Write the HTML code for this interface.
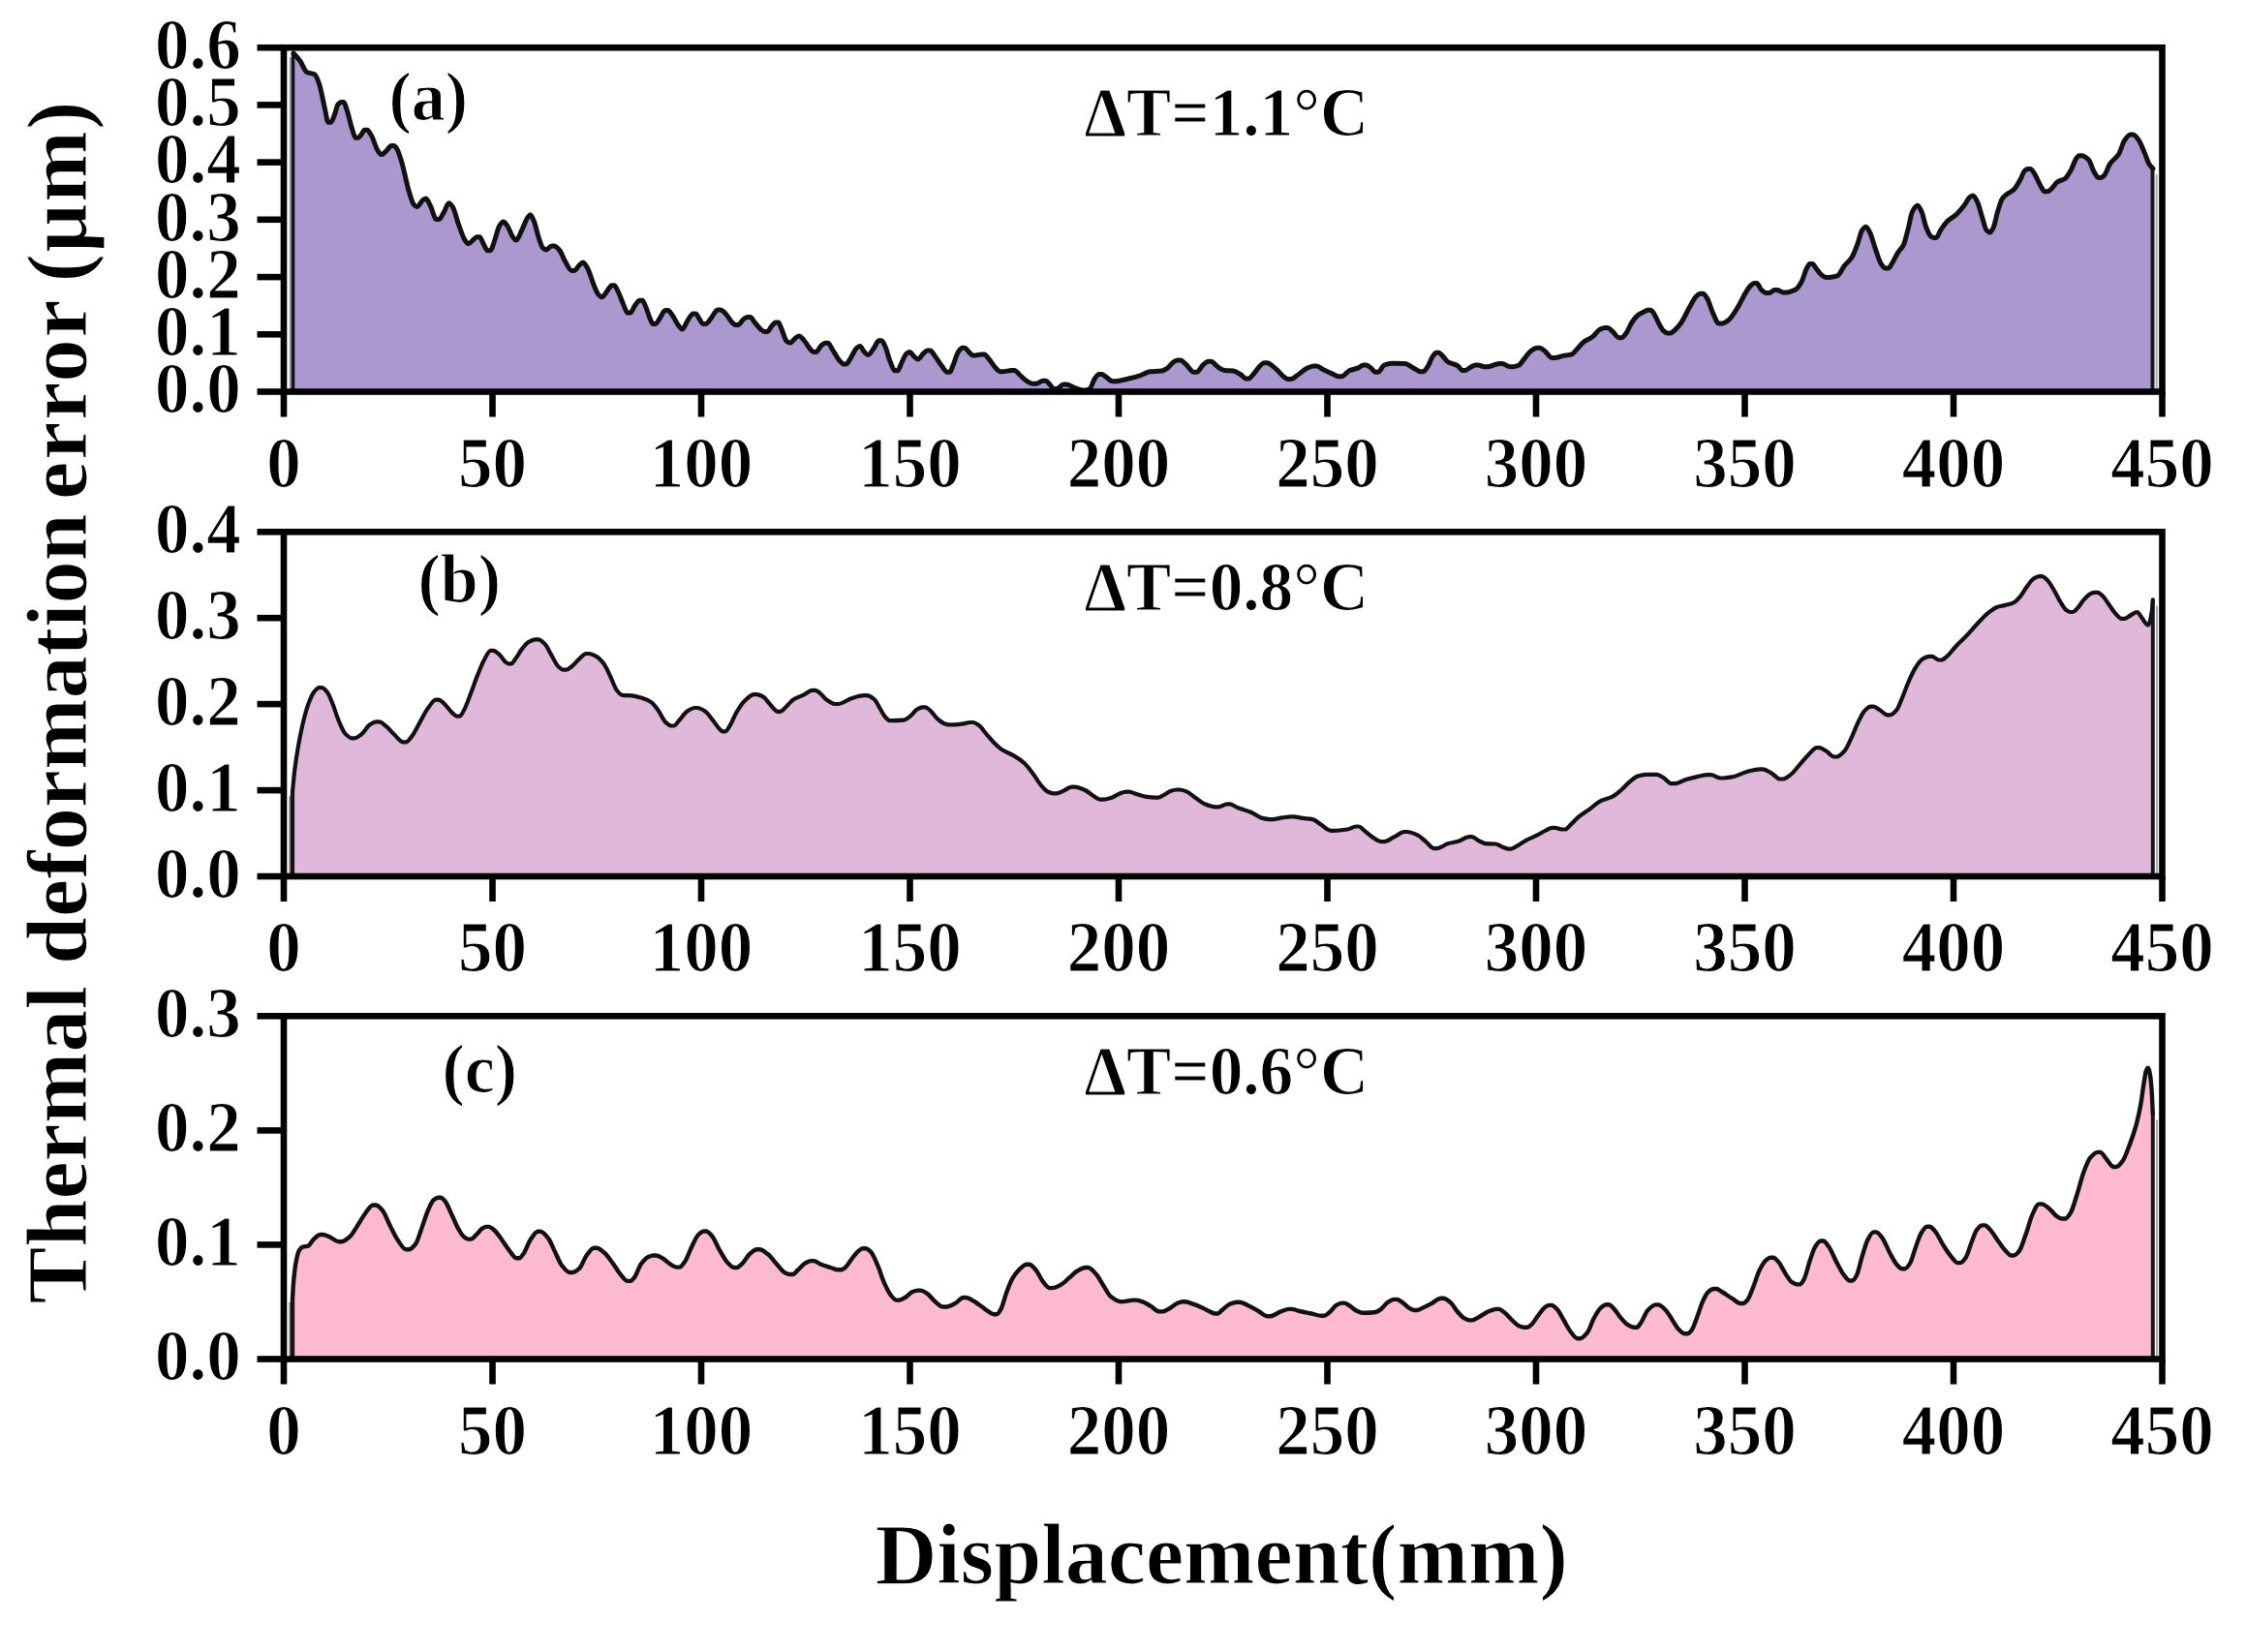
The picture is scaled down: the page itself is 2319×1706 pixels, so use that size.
<!DOCTYPE html>
<html lang="en"><head><meta charset="utf-8"><title>Thermal deformation error</title>
<style>
html,body{margin:0;padding:0;background:#fff;}
body{width:2319px;height:1706px;overflow:hidden;}
svg{display:block;}
text{font-family:"Liberation Serif","Times New Roman",serif;font-weight:bold;fill:#000;stroke:#fff;stroke-width:1.1px;paint-order:fill stroke;}
.tk{font-size:71px;}
.lab{font-size:70px;}
.dt{font-size:69.3px;}
.xl{font-size:88.2px;}
.yl{font-size:88.7px;}
</style></head><body>
<svg width="2319" height="1706" viewBox="0 0 2319 1706">
<rect width="100%" height="100%" fill="#fff"/>
<path d="M303.0,54.9C305.3,57.6 307.6,59.8 309.9,63.0C312.2,66.2 314.5,73.4 316.8,74.5C319.5,75.8 322.1,75.4 324.8,76.8C326.3,77.6 327.9,81.9 329.4,86.0C331.3,91.2 333.3,103.2 335.2,111.3C336.4,116.4 337.7,126.2 338.9,126.2C339.8,126.2 340.8,126.2 341.7,126.2C343.0,126.2 344.2,121.3 345.5,118.2C346.7,115.3 347.8,109.1 349.0,107.8C350.1,106.6 351.1,105.5 352.2,105.5C353.1,105.5 354.1,105.5 355.0,105.5C356.1,105.5 357.1,110.5 358.2,113.6C360.1,119.2 362.0,128.8 363.9,134.3C365.0,137.4 366.0,142.3 367.1,142.3C368.0,142.3 369.0,142.3 369.9,142.3C371.0,142.3 372.0,140.2 373.1,138.9C374.2,137.6 375.2,134.3 376.3,134.3C377.2,134.3 378.2,134.3 379.1,134.3C380.6,134.3 382.0,137.6 383.5,140.0C385.8,143.8 388.1,153.0 390.4,156.1C391.5,157.7 392.7,159.6 393.8,159.6C395.7,159.6 397.7,156.8 399.6,155.0C401.0,153.7 402.5,150.4 403.9,150.4C404.8,150.4 405.8,150.4 406.7,150.4C407.8,150.4 408.8,152.2 409.9,153.8C411.4,156.1 413.0,161.6 414.5,166.5C417.2,175.2 419.9,190.1 422.6,198.7C424.1,203.6 425.7,209.7 427.2,211.3C428.3,212.5 429.5,213.6 430.6,213.6C432.5,213.6 434.5,208.0 436.4,206.7C437.5,206.0 438.7,205.1 439.8,205.1C441.3,205.1 442.9,209.6 444.4,212.5C446.4,216.3 448.5,226.5 450.5,226.5C451.4,226.5 452.4,226.5 453.3,226.5C454.9,226.5 456.6,222.0 458.2,219.4C460.0,216.5 461.7,209.7 463.5,209.7C464.8,209.7 466.1,211.7 467.4,213.6C469.3,216.4 471.3,225.6 473.2,230.9C475.5,237.2 477.8,244.9 480.1,248.1C481.2,249.7 482.4,251.6 483.5,251.6C485.4,251.6 487.4,248.5 489.3,247.0C490.4,246.2 491.4,244.7 492.5,244.7C493.4,244.7 494.4,244.7 495.3,244.7C496.4,244.7 497.4,248.5 498.5,250.4C500.1,253.2 501.8,258.7 503.4,258.7C504.3,258.7 505.3,258.7 506.2,258.7C507.8,258.7 509.5,251.3 511.1,247.0C512.6,242.9 514.2,235.5 515.7,233.2C517.0,231.2 518.4,229.1 519.7,229.1C521.1,229.1 522.4,231.4 523.8,233.2C525.7,235.7 527.6,242.3 529.5,244.7C530.7,246.2 531.8,248.1 533.0,248.1C534.9,248.1 536.8,241.6 538.7,237.8C540.6,234.0 542.6,227.9 544.5,225.1C545.5,223.7 546.5,221.7 547.5,221.7C548.8,221.7 550.1,225.6 551.4,228.6C552.9,232.2 554.5,240.2 556.0,244.7C557.5,249.2 559.1,254.9 560.6,256.2C561.7,257.2 562.9,258.0 564.0,258.0C565.8,258.0 567.7,253.9 569.5,253.9C570.4,253.9 571.4,253.9 572.3,253.9C574.1,253.9 576.0,256.4 577.8,258.5C579.7,260.8 581.7,266.8 583.6,270.0C585.8,273.7 588.0,279.4 590.2,279.4C591.1,279.4 592.1,279.4 593.0,279.4C594.8,279.4 596.7,274.9 598.5,273.4C599.7,272.5 600.8,271.1 602.0,271.1C603.5,271.1 605.1,274.3 606.6,276.9C608.9,280.7 611.2,290.1 613.5,295.3C615.0,298.8 616.6,303.0 618.1,304.5C619.2,305.6 620.4,306.8 621.5,306.8C623.4,306.8 625.4,302.2 627.3,299.9C628.7,298.2 630.2,294.8 631.6,294.8C632.5,294.8 633.5,294.8 634.4,294.8C635.5,294.8 636.5,297.9 637.6,299.9C639.5,303.5 641.5,309.5 643.4,313.7C644.9,317.1 646.5,323.1 648.0,323.1C648.9,323.1 649.9,323.1 650.8,323.1C652.5,323.1 654.3,317.0 656.0,314.8C657.5,313.0 658.9,310.2 660.4,310.2C661.3,310.2 662.3,310.2 663.2,310.2C664.3,310.2 665.3,313.7 666.4,316.0C667.9,319.3 669.5,325.3 671.0,328.6C672.1,330.9 673.1,334.4 674.2,334.4C675.1,334.4 676.1,334.4 677.0,334.4C678.4,334.4 679.9,330.6 681.3,328.6C683.1,326.0 685.0,320.6 686.8,320.6C687.7,320.6 688.7,320.6 689.6,320.6C691.1,320.6 692.5,323.3 694.0,325.2C696.3,328.1 698.6,333.9 700.9,336.7C702.0,338.1 703.2,340.1 704.3,340.1C706.2,340.1 708.2,333.6 710.1,330.9C711.9,328.3 713.8,324.0 715.6,324.0C716.5,324.0 717.5,324.0 718.4,324.0C719.5,324.0 720.5,327.1 721.6,328.6C723.0,330.6 724.5,334.4 725.9,334.4C726.8,334.4 727.8,334.4 728.7,334.4C730.5,334.4 732.4,330.7 734.2,328.6C736.4,326.0 738.7,320.1 740.9,320.1C741.8,320.1 742.8,320.1 743.7,320.1C745.5,320.1 747.4,322.3 749.2,324.0C751.5,326.1 753.8,331.1 756.1,333.2C757.2,334.2 758.2,335.5 759.3,335.5C760.2,335.5 761.2,335.5 762.1,335.5C763.9,335.5 765.8,331.1 767.6,329.8C769.0,328.8 770.5,327.5 771.9,327.5C772.8,327.5 773.8,327.5 774.7,327.5C776.1,327.5 777.5,330.9 778.9,332.5C781.1,335.1 783.4,338.4 785.6,340.2C786.8,341.2 788.1,342.5 789.3,342.5C790.2,342.5 791.2,342.5 792.1,342.5C793.6,342.5 795.2,338.5 796.7,336.9C798.1,335.4 799.5,333.1 800.9,333.1C801.8,333.1 802.8,333.1 803.7,333.1C804.7,333.1 805.7,336.9 806.7,339.1C808.6,343.1 810.4,351.1 812.3,352.5C813.4,353.3 814.6,354.1 815.7,354.1C817.5,354.1 819.4,350.5 821.2,349.2C822.5,348.3 823.7,346.9 825.0,346.9C826.7,346.9 828.4,349.6 830.1,351.4C832.3,353.8 834.6,358.3 836.8,360.7C837.8,361.8 838.9,363.6 839.9,363.6C840.8,363.6 841.8,363.6 842.7,363.6C844.4,363.6 846.2,358.3 847.9,356.9C849.3,355.7 850.7,354.3 852.1,354.3C853.0,354.3 854.0,354.3 854.9,354.3C856.3,354.3 857.7,358.2 859.1,360.3C861.7,364.2 864.3,369.8 866.9,372.5C868.3,373.9 869.6,375.9 871.0,375.9C871.9,375.9 872.9,375.9 873.8,375.9C875.2,375.9 876.6,372.4 878.0,370.3C880.2,367.0 882.5,360.8 884.7,359.2C885.8,358.4 886.9,357.6 888.0,357.6C889.5,357.6 891.0,362.1 892.5,363.6C893.7,364.8 895.0,366.5 896.2,366.5C898.3,366.5 900.4,362.0 902.5,359.2C904.1,357.1 905.7,351.8 907.3,351.8C908.2,351.8 909.2,351.8 910.1,351.8C911.3,351.8 912.4,354.7 913.6,356.9C915.5,360.5 917.3,369.2 919.2,373.6C920.8,377.3 922.3,382.8 923.9,382.8C924.8,382.8 925.8,382.8 926.7,382.8C928.3,382.8 929.8,376.6 931.4,373.6C932.9,370.7 934.4,366.3 935.9,365.2C937.0,364.4 938.1,363.6 939.2,363.6C940.7,363.6 942.2,366.8 943.7,368.1C945.0,369.2 946.4,371.0 947.7,371.0C949.7,371.0 951.7,366.3 953.7,364.7C955.1,363.6 956.4,362.1 957.8,362.1C958.7,362.1 959.7,362.1 960.6,362.1C962.0,362.1 963.4,365.2 964.8,367.0C967.4,370.3 970.0,374.8 972.6,378.1C974.4,380.4 976.1,384.3 977.9,384.3C978.8,384.3 979.8,384.3 980.7,384.3C981.7,384.3 982.7,380.4 983.7,378.1C985.6,373.9 987.4,366.3 989.3,363.6C990.7,361.6 992.1,359.2 993.5,359.2C994.4,359.2 995.4,359.2 996.3,359.2C997.7,359.2 999.0,362.3 1000.4,363.6C1001.8,364.9 1003.2,367.0 1004.6,367.0C1005.5,367.0 1006.5,367.0 1007.4,367.0C1009.4,367.0 1011.5,365.9 1013.5,365.9C1014.4,365.9 1015.4,365.9 1016.3,365.9C1018.1,365.9 1019.8,369.4 1021.6,371.4C1023.8,374.0 1026.1,378.1 1028.3,380.3C1029.7,381.7 1031.0,383.7 1032.4,383.7C1033.3,383.7 1034.3,383.7 1035.2,383.7C1038.4,383.7 1041.5,382.5 1044.7,382.5C1045.6,382.5 1046.6,382.5 1047.5,382.5C1049.2,382.5 1051.0,385.5 1052.7,387.0C1055.3,389.2 1057.9,392.3 1060.5,393.7C1062.6,394.9 1064.8,396.3 1066.9,396.3C1067.8,396.3 1068.8,396.3 1069.7,396.3C1072.1,396.3 1074.5,393.2 1076.9,393.2C1077.8,393.2 1078.8,393.2 1079.7,393.2C1081.1,393.2 1082.5,395.6 1083.9,397.0C1085.3,398.4 1086.7,401.5 1088.1,401.5C1089.0,401.5 1090.0,401.5 1090.9,401.5C1093.3,401.5 1095.7,397.0 1098.1,397.0C1099.0,397.0 1100.0,397.0 1100.9,397.0C1103.8,397.0 1106.6,399.4 1109.5,400.4C1112.4,401.4 1115.2,403.0 1118.1,403.0C1119.0,403.0 1120.0,403.0 1120.9,403.0C1122.3,403.0 1123.7,402.3 1125.1,401.5C1127.0,400.4 1128.8,392.6 1130.7,390.3C1132.1,388.6 1133.4,386.6 1134.8,386.6C1135.7,386.6 1136.7,386.6 1137.6,386.6C1139.0,386.6 1140.4,388.3 1141.8,389.2C1144.1,390.7 1146.5,393.7 1148.8,393.7C1149.7,393.7 1150.7,393.7 1151.6,393.7C1156.1,393.7 1160.7,392.0 1165.2,391.0C1168.9,390.2 1172.6,389.3 1176.3,388.1C1180.0,386.9 1183.7,384.1 1187.4,383.7C1191.5,383.3 1195.6,383.5 1199.7,383.0C1201.5,382.8 1203.4,381.5 1205.2,380.3C1207.4,378.8 1209.7,374.8 1211.9,373.6C1213.3,372.8 1214.7,371.9 1216.1,371.9C1217.0,371.9 1218.0,371.9 1218.9,371.9C1220.7,371.9 1222.4,374.4 1224.2,375.9C1227.1,378.3 1229.9,384.3 1232.8,384.3C1233.7,384.3 1234.7,384.3 1235.6,384.3C1237.7,384.3 1239.9,378.8 1242.0,377.0C1243.8,375.4 1245.7,373.2 1247.5,373.2C1248.4,373.2 1249.4,373.2 1250.3,373.2C1252.8,373.2 1255.3,377.7 1257.8,379.2C1260.0,380.6 1262.3,382.3 1264.5,382.5C1267.5,382.8 1270.4,382.7 1273.4,383.0C1276.0,383.3 1278.6,385.4 1281.2,387.0C1283.0,388.1 1284.7,391.0 1286.5,391.0C1287.4,391.0 1288.4,391.0 1289.3,391.0C1291.0,391.0 1292.8,387.6 1294.5,385.9C1298.1,382.3 1301.8,374.8 1305.4,374.8C1306.3,374.8 1307.3,374.8 1308.2,374.8C1311.4,374.8 1314.7,378.8 1317.9,381.4C1320.5,383.5 1323.1,387.4 1325.7,389.2C1327.1,390.2 1328.5,391.5 1329.9,391.5C1330.8,391.5 1331.8,391.5 1332.7,391.5C1335.2,391.5 1337.7,388.6 1340.2,387.0C1343.5,384.8 1346.9,381.2 1350.2,379.9C1352.3,379.1 1354.5,378.1 1356.6,378.1C1357.5,378.1 1358.5,378.1 1359.4,378.1C1361.9,378.1 1364.4,380.9 1366.9,382.1C1370.2,383.7 1373.6,385.2 1376.9,386.6C1378.7,387.4 1380.4,388.8 1382.2,388.8C1383.1,388.8 1384.1,388.8 1385.0,388.8C1387.9,388.8 1390.7,383.7 1393.6,382.5C1396.6,381.3 1399.5,381.1 1402.5,379.9C1404.3,379.2 1406.0,377.0 1407.8,377.0C1408.7,377.0 1409.7,377.0 1410.6,377.0C1412.4,377.0 1414.1,378.9 1415.9,380.3C1417.3,381.3 1418.6,384.3 1420.0,384.3C1420.9,384.3 1421.9,384.3 1422.8,384.3C1424.9,384.3 1427.1,377.9 1429.2,377.0C1431.7,376.0 1434.2,375.2 1436.7,375.2C1437.6,375.2 1438.6,375.2 1439.5,375.2C1443.1,375.2 1446.8,375.3 1450.4,375.4C1453.4,375.5 1456.3,378.4 1459.3,379.9C1461.8,381.2 1464.3,383.7 1466.8,383.7C1467.7,383.7 1468.7,383.7 1469.6,383.7C1471.0,383.7 1472.3,381.1 1473.7,379.2C1475.6,376.6 1477.4,370.7 1479.3,368.1C1480.5,366.5 1481.6,364.3 1482.8,364.3C1483.7,364.3 1484.7,364.3 1485.6,364.3C1486.8,364.3 1488.1,366.2 1489.3,367.4C1491.2,369.2 1493.0,372.5 1494.9,373.6C1498.2,375.6 1501.6,375.7 1504.9,377.6C1506.7,378.6 1508.4,382.5 1510.2,382.5C1511.1,382.5 1512.1,382.5 1513.0,382.5C1514.8,382.5 1516.5,380.1 1518.3,379.2C1520.1,378.3 1521.8,377.0 1523.6,377.0C1524.5,377.0 1525.5,377.0 1526.4,377.0C1528.4,377.0 1530.5,378.8 1532.5,378.8C1533.4,378.8 1534.4,378.8 1535.3,378.8C1539.6,378.8 1543.8,375.4 1548.1,375.4C1549.0,375.4 1550.0,375.4 1550.9,375.4C1553.7,375.4 1556.4,378.8 1559.2,378.8C1560.1,378.8 1561.1,378.8 1562.0,378.8C1564.1,378.8 1566.3,378.0 1568.4,377.0C1570.2,376.1 1572.1,372.5 1573.9,370.3C1576.1,367.6 1578.4,364.1 1580.6,362.5C1582.7,361.0 1584.9,359.2 1587.0,359.2C1587.9,359.2 1588.9,359.2 1589.8,359.2C1591.6,359.2 1593.3,361.2 1595.1,362.5C1597.6,364.4 1600.1,369.6 1602.6,369.6C1603.5,369.6 1604.5,369.6 1605.4,369.6C1608.3,369.6 1611.1,368.0 1614.0,367.4C1617.0,366.8 1619.9,366.8 1622.9,365.9C1624.8,365.3 1626.6,362.2 1628.5,360.3C1630.7,358.0 1632.9,354.9 1635.1,353.2C1638.1,350.9 1641.1,350.2 1644.1,348.0C1646.7,346.1 1649.2,341.4 1651.8,340.2C1653.6,339.4 1655.3,338.5 1657.1,338.5C1658.0,338.5 1659.0,338.5 1659.9,338.5C1661.7,338.5 1663.4,341.0 1665.2,342.5C1667.3,344.3 1669.5,348.7 1671.6,348.7C1672.5,348.7 1673.5,348.7 1674.4,348.7C1675.8,348.7 1677.2,346.4 1678.6,344.7C1680.8,342.0 1683.0,335.7 1685.2,332.5C1687.1,329.8 1688.9,327.3 1690.8,325.8C1693.0,324.1 1695.3,323.1 1697.5,322.0C1698.9,321.3 1700.2,320.2 1701.6,320.2C1702.5,320.2 1703.5,320.2 1704.4,320.2C1705.4,320.2 1706.5,322.2 1707.5,323.6C1709.4,326.2 1711.2,331.4 1713.1,334.7C1714.4,337.0 1715.8,339.9 1717.1,341.1C1718.7,342.5 1720.2,344.0 1721.8,344.0C1722.7,344.0 1723.7,344.0 1724.6,344.0C1726.2,344.0 1727.7,342.1 1729.3,340.8C1731.6,338.9 1733.9,336.0 1736.2,332.7C1738.9,328.8 1741.6,322.3 1744.3,317.6C1746.6,313.5 1749.0,308.2 1751.3,306.1C1752.7,304.8 1754.2,303.3 1755.6,303.3C1756.5,303.3 1757.5,303.3 1758.4,303.3C1759.9,303.3 1761.3,306.1 1762.8,308.4C1764.7,311.4 1766.7,319.4 1768.6,323.4C1770.7,327.7 1772.7,334.1 1774.8,334.1C1775.7,334.1 1776.7,334.1 1777.6,334.1C1780.0,334.1 1782.4,332.2 1784.8,330.4C1787.9,328.1 1791.0,322.5 1794.1,317.6C1796.8,313.3 1799.5,306.9 1802.2,302.6C1804.1,299.5 1806.1,296.1 1808.0,294.5C1809.1,293.6 1810.1,292.6 1811.2,292.6C1812.1,292.6 1813.1,292.6 1814.0,292.6C1815.5,292.6 1816.9,297.8 1818.4,299.1C1820.2,300.8 1822.1,302.6 1823.9,302.6C1824.8,302.6 1825.8,302.6 1826.7,302.6C1828.5,302.6 1830.3,299.6 1832.1,299.6C1833.0,299.6 1834.0,299.6 1834.9,299.6C1837.0,299.6 1839.2,301.9 1841.3,301.9C1842.2,301.9 1843.2,301.9 1844.1,301.9C1847.5,301.9 1850.9,300.5 1854.3,298.7C1856.2,297.7 1858.2,294.4 1860.1,291.0C1861.9,287.9 1863.6,280.3 1865.4,277.1C1866.5,275.2 1867.5,272.5 1868.6,272.5C1869.5,272.5 1870.5,272.5 1871.4,272.5C1872.6,272.5 1873.9,275.6 1875.1,277.1C1877.0,279.5 1879.0,282.7 1880.9,284.1C1882.4,285.2 1883.8,286.4 1885.3,286.4C1886.2,286.4 1887.2,286.4 1888.1,286.4C1891.1,286.4 1894.1,285.8 1897.1,284.8C1899.4,284.0 1901.8,277.8 1904.1,274.8C1906.8,271.4 1909.5,269.8 1912.2,265.5C1914.1,262.4 1916.1,256.9 1918.0,251.7C1919.5,247.6 1921.1,239.9 1922.6,237.8C1923.9,236.0 1925.2,234.3 1926.5,234.3C1927.9,234.3 1929.3,237.5 1930.7,240.1C1932.6,243.7 1934.6,252.0 1936.5,257.4C1938.4,262.8 1940.4,269.7 1942.3,272.5C1943.8,274.6 1945.2,277.1 1946.7,277.1C1947.6,277.1 1948.6,277.1 1949.5,277.1C1951.0,277.1 1952.4,273.5 1953.9,271.3C1955.8,268.4 1957.7,263.9 1959.6,260.9C1961.5,257.8 1963.5,256.7 1965.4,252.8C1967.0,249.6 1968.5,242.4 1970.1,236.6C1971.6,230.9 1973.2,220.8 1974.7,218.1C1976.4,215.1 1978.1,212.3 1979.8,212.3C1981.2,212.3 1982.5,215.4 1983.9,218.1C1985.5,221.2 1987.0,230.3 1988.6,234.3C1990.1,238.2 1991.7,242.3 1993.2,243.6C1994.3,244.5 1995.3,245.4 1996.4,245.4C1997.3,245.4 1998.3,245.4 1999.2,245.4C2000.7,245.4 2002.1,240.0 2003.6,237.8C2005.9,234.3 2008.3,230.8 2010.6,228.5C2013.7,225.5 2016.7,224.4 2019.8,221.6C2022.5,219.1 2025.2,215.8 2027.9,212.3C2029.8,209.8 2031.8,205.1 2033.7,203.7C2034.9,202.8 2036.0,201.9 2037.2,201.9C2038.7,201.9 2040.3,205.7 2041.8,208.8C2043.4,212.0 2044.9,219.0 2046.5,223.9C2048.0,228.7 2049.6,236.2 2051.1,237.8C2052.3,239.0 2053.4,240.1 2054.6,240.1C2055.7,240.1 2056.9,237.6 2058.0,235.4C2059.6,232.3 2061.1,223.1 2062.7,218.1C2064.2,213.2 2065.8,207.6 2067.3,205.3C2068.8,203.0 2070.4,201.9 2071.9,200.7C2074.2,198.8 2076.6,198.2 2078.9,196.1C2081.2,194.0 2083.5,189.7 2085.8,185.7C2087.4,183.0 2088.9,177.7 2090.5,176.4C2091.6,175.5 2092.6,174.6 2093.7,174.6C2094.6,174.6 2095.6,174.6 2096.5,174.6C2098.0,174.6 2099.4,177.7 2100.9,179.9C2102.8,182.8 2104.8,188.3 2106.7,191.5C2108.2,193.9 2109.6,197.7 2111.1,197.7C2112.0,197.7 2113.0,197.7 2113.9,197.7C2115.3,197.7 2116.8,196.1 2118.2,194.9C2120.1,193.3 2122.1,189.3 2124.0,188.0C2126.7,186.2 2129.4,186.3 2132.1,184.5C2134.0,183.2 2136.0,179.7 2137.9,176.4C2139.8,173.1 2141.8,166.4 2143.7,163.7C2144.6,162.4 2145.6,160.7 2146.5,160.7C2147.4,160.7 2148.4,160.7 2149.3,160.7C2151.7,160.7 2154.0,162.6 2156.4,164.8C2158.3,166.6 2160.3,174.4 2162.2,177.6C2163.7,180.0 2165.1,183.4 2166.6,183.4C2167.5,183.4 2168.5,183.4 2169.4,183.4C2170.5,183.4 2171.6,182.1 2172.7,181.0C2174.6,179.1 2176.5,172.3 2178.4,169.5C2181.5,164.9 2184.6,163.9 2187.7,159.0C2189.6,155.9 2191.6,147.8 2193.5,145.1C2195.5,142.2 2197.6,139.0 2199.6,139.0C2200.5,139.0 2201.5,139.0 2202.4,139.0C2204.4,139.0 2206.5,142.3 2208.5,145.1C2210.4,147.8 2212.4,153.4 2214.3,157.9C2215.9,161.6 2217.4,167.0 2219.0,169.5C2220.3,171.6 2221.6,172.6 2222.9,174.1L2222.5,404.5L302.5,404.5Z" fill="#AB98CE" stroke="none"/>
<line x1="2226.7" y1="180.1" x2="2226.7" y2="404.5" stroke="#aaa" stroke-width="2"/>
<line x1="299.7" y1="58.9" x2="299.7" y2="404.5" stroke="#888" stroke-width="1.6"/>
<line x1="2222.5" y1="174.1" x2="2222.5" y2="404.5" stroke="#1a1420" stroke-width="4"/>
<line x1="302.5" y1="54.9" x2="302.5" y2="404.5" stroke="#16121a" stroke-width="3.6"/>
<path d="M303.0,54.9C305.3,57.6 307.6,59.8 309.9,63.0C312.2,66.2 314.5,73.4 316.8,74.5C319.5,75.8 322.1,75.4 324.8,76.8C326.3,77.6 327.9,81.9 329.4,86.0C331.3,91.2 333.3,103.2 335.2,111.3C336.4,116.4 337.7,126.2 338.9,126.2C339.8,126.2 340.8,126.2 341.7,126.2C343.0,126.2 344.2,121.3 345.5,118.2C346.7,115.3 347.8,109.1 349.0,107.8C350.1,106.6 351.1,105.5 352.2,105.5C353.1,105.5 354.1,105.5 355.0,105.5C356.1,105.5 357.1,110.5 358.2,113.6C360.1,119.2 362.0,128.8 363.9,134.3C365.0,137.4 366.0,142.3 367.1,142.3C368.0,142.3 369.0,142.3 369.9,142.3C371.0,142.3 372.0,140.2 373.1,138.9C374.2,137.6 375.2,134.3 376.3,134.3C377.2,134.3 378.2,134.3 379.1,134.3C380.6,134.3 382.0,137.6 383.5,140.0C385.8,143.8 388.1,153.0 390.4,156.1C391.5,157.7 392.7,159.6 393.8,159.6C395.7,159.6 397.7,156.8 399.6,155.0C401.0,153.7 402.5,150.4 403.9,150.4C404.8,150.4 405.8,150.4 406.7,150.4C407.8,150.4 408.8,152.2 409.9,153.8C411.4,156.1 413.0,161.6 414.5,166.5C417.2,175.2 419.9,190.1 422.6,198.7C424.1,203.6 425.7,209.7 427.2,211.3C428.3,212.5 429.5,213.6 430.6,213.6C432.5,213.6 434.5,208.0 436.4,206.7C437.5,206.0 438.7,205.1 439.8,205.1C441.3,205.1 442.9,209.6 444.4,212.5C446.4,216.3 448.5,226.5 450.5,226.5C451.4,226.5 452.4,226.5 453.3,226.5C454.9,226.5 456.6,222.0 458.2,219.4C460.0,216.5 461.7,209.7 463.5,209.7C464.8,209.7 466.1,211.7 467.4,213.6C469.3,216.4 471.3,225.6 473.2,230.9C475.5,237.2 477.8,244.9 480.1,248.1C481.2,249.7 482.4,251.6 483.5,251.6C485.4,251.6 487.4,248.5 489.3,247.0C490.4,246.2 491.4,244.7 492.5,244.7C493.4,244.7 494.4,244.7 495.3,244.7C496.4,244.7 497.4,248.5 498.5,250.4C500.1,253.2 501.8,258.7 503.4,258.7C504.3,258.7 505.3,258.7 506.2,258.7C507.8,258.7 509.5,251.3 511.1,247.0C512.6,242.9 514.2,235.5 515.7,233.2C517.0,231.2 518.4,229.1 519.7,229.1C521.1,229.1 522.4,231.4 523.8,233.2C525.7,235.7 527.6,242.3 529.5,244.7C530.7,246.2 531.8,248.1 533.0,248.1C534.9,248.1 536.8,241.6 538.7,237.8C540.6,234.0 542.6,227.9 544.5,225.1C545.5,223.7 546.5,221.7 547.5,221.7C548.8,221.7 550.1,225.6 551.4,228.6C552.9,232.2 554.5,240.2 556.0,244.7C557.5,249.2 559.1,254.9 560.6,256.2C561.7,257.2 562.9,258.0 564.0,258.0C565.8,258.0 567.7,253.9 569.5,253.9C570.4,253.9 571.4,253.9 572.3,253.9C574.1,253.9 576.0,256.4 577.8,258.5C579.7,260.8 581.7,266.8 583.6,270.0C585.8,273.7 588.0,279.4 590.2,279.4C591.1,279.4 592.1,279.4 593.0,279.4C594.8,279.4 596.7,274.9 598.5,273.4C599.7,272.5 600.8,271.1 602.0,271.1C603.5,271.1 605.1,274.3 606.6,276.9C608.9,280.7 611.2,290.1 613.5,295.3C615.0,298.8 616.6,303.0 618.1,304.5C619.2,305.6 620.4,306.8 621.5,306.8C623.4,306.8 625.4,302.2 627.3,299.9C628.7,298.2 630.2,294.8 631.6,294.8C632.5,294.8 633.5,294.8 634.4,294.8C635.5,294.8 636.5,297.9 637.6,299.9C639.5,303.5 641.5,309.5 643.4,313.7C644.9,317.1 646.5,323.1 648.0,323.1C648.9,323.1 649.9,323.1 650.8,323.1C652.5,323.1 654.3,317.0 656.0,314.8C657.5,313.0 658.9,310.2 660.4,310.2C661.3,310.2 662.3,310.2 663.2,310.2C664.3,310.2 665.3,313.7 666.4,316.0C667.9,319.3 669.5,325.3 671.0,328.6C672.1,330.9 673.1,334.4 674.2,334.4C675.1,334.4 676.1,334.4 677.0,334.4C678.4,334.4 679.9,330.6 681.3,328.6C683.1,326.0 685.0,320.6 686.8,320.6C687.7,320.6 688.7,320.6 689.6,320.6C691.1,320.6 692.5,323.3 694.0,325.2C696.3,328.1 698.6,333.9 700.9,336.7C702.0,338.1 703.2,340.1 704.3,340.1C706.2,340.1 708.2,333.6 710.1,330.9C711.9,328.3 713.8,324.0 715.6,324.0C716.5,324.0 717.5,324.0 718.4,324.0C719.5,324.0 720.5,327.1 721.6,328.6C723.0,330.6 724.5,334.4 725.9,334.4C726.8,334.4 727.8,334.4 728.7,334.4C730.5,334.4 732.4,330.7 734.2,328.6C736.4,326.0 738.7,320.1 740.9,320.1C741.8,320.1 742.8,320.1 743.7,320.1C745.5,320.1 747.4,322.3 749.2,324.0C751.5,326.1 753.8,331.1 756.1,333.2C757.2,334.2 758.2,335.5 759.3,335.5C760.2,335.5 761.2,335.5 762.1,335.5C763.9,335.5 765.8,331.1 767.6,329.8C769.0,328.8 770.5,327.5 771.9,327.5C772.8,327.5 773.8,327.5 774.7,327.5C776.1,327.5 777.5,330.9 778.9,332.5C781.1,335.1 783.4,338.4 785.6,340.2C786.8,341.2 788.1,342.5 789.3,342.5C790.2,342.5 791.2,342.5 792.1,342.5C793.6,342.5 795.2,338.5 796.7,336.9C798.1,335.4 799.5,333.1 800.9,333.1C801.8,333.1 802.8,333.1 803.7,333.1C804.7,333.1 805.7,336.9 806.7,339.1C808.6,343.1 810.4,351.1 812.3,352.5C813.4,353.3 814.6,354.1 815.7,354.1C817.5,354.1 819.4,350.5 821.2,349.2C822.5,348.3 823.7,346.9 825.0,346.9C826.7,346.9 828.4,349.6 830.1,351.4C832.3,353.8 834.6,358.3 836.8,360.7C837.8,361.8 838.9,363.6 839.9,363.6C840.8,363.6 841.8,363.6 842.7,363.6C844.4,363.6 846.2,358.3 847.9,356.9C849.3,355.7 850.7,354.3 852.1,354.3C853.0,354.3 854.0,354.3 854.9,354.3C856.3,354.3 857.7,358.2 859.1,360.3C861.7,364.2 864.3,369.8 866.9,372.5C868.3,373.9 869.6,375.9 871.0,375.9C871.9,375.9 872.9,375.9 873.8,375.9C875.2,375.9 876.6,372.4 878.0,370.3C880.2,367.0 882.5,360.8 884.7,359.2C885.8,358.4 886.9,357.6 888.0,357.6C889.5,357.6 891.0,362.1 892.5,363.6C893.7,364.8 895.0,366.5 896.2,366.5C898.3,366.5 900.4,362.0 902.5,359.2C904.1,357.1 905.7,351.8 907.3,351.8C908.2,351.8 909.2,351.8 910.1,351.8C911.3,351.8 912.4,354.7 913.6,356.9C915.5,360.5 917.3,369.2 919.2,373.6C920.8,377.3 922.3,382.8 923.9,382.8C924.8,382.8 925.8,382.8 926.7,382.8C928.3,382.8 929.8,376.6 931.4,373.6C932.9,370.7 934.4,366.3 935.9,365.2C937.0,364.4 938.1,363.6 939.2,363.6C940.7,363.6 942.2,366.8 943.7,368.1C945.0,369.2 946.4,371.0 947.7,371.0C949.7,371.0 951.7,366.3 953.7,364.7C955.1,363.6 956.4,362.1 957.8,362.1C958.7,362.1 959.7,362.1 960.6,362.1C962.0,362.1 963.4,365.2 964.8,367.0C967.4,370.3 970.0,374.8 972.6,378.1C974.4,380.4 976.1,384.3 977.9,384.3C978.8,384.3 979.8,384.3 980.7,384.3C981.7,384.3 982.7,380.4 983.7,378.1C985.6,373.9 987.4,366.3 989.3,363.6C990.7,361.6 992.1,359.2 993.5,359.2C994.4,359.2 995.4,359.2 996.3,359.2C997.7,359.2 999.0,362.3 1000.4,363.6C1001.8,364.9 1003.2,367.0 1004.6,367.0C1005.5,367.0 1006.5,367.0 1007.4,367.0C1009.4,367.0 1011.5,365.9 1013.5,365.9C1014.4,365.9 1015.4,365.9 1016.3,365.9C1018.1,365.9 1019.8,369.4 1021.6,371.4C1023.8,374.0 1026.1,378.1 1028.3,380.3C1029.7,381.7 1031.0,383.7 1032.4,383.7C1033.3,383.7 1034.3,383.7 1035.2,383.7C1038.4,383.7 1041.5,382.5 1044.7,382.5C1045.6,382.5 1046.6,382.5 1047.5,382.5C1049.2,382.5 1051.0,385.5 1052.7,387.0C1055.3,389.2 1057.9,392.3 1060.5,393.7C1062.6,394.9 1064.8,396.3 1066.9,396.3C1067.8,396.3 1068.8,396.3 1069.7,396.3C1072.1,396.3 1074.5,393.2 1076.9,393.2C1077.8,393.2 1078.8,393.2 1079.7,393.2C1081.1,393.2 1082.5,395.6 1083.9,397.0C1085.3,398.4 1086.7,401.5 1088.1,401.5C1089.0,401.5 1090.0,401.5 1090.9,401.5C1093.3,401.5 1095.7,397.0 1098.1,397.0C1099.0,397.0 1100.0,397.0 1100.9,397.0C1103.8,397.0 1106.6,399.4 1109.5,400.4C1112.4,401.4 1115.2,403.0 1118.1,403.0C1119.0,403.0 1120.0,403.0 1120.9,403.0C1122.3,403.0 1123.7,402.3 1125.1,401.5C1127.0,400.4 1128.8,392.6 1130.7,390.3C1132.1,388.6 1133.4,386.6 1134.8,386.6C1135.7,386.6 1136.7,386.6 1137.6,386.6C1139.0,386.6 1140.4,388.3 1141.8,389.2C1144.1,390.7 1146.5,393.7 1148.8,393.7C1149.7,393.7 1150.7,393.7 1151.6,393.7C1156.1,393.7 1160.7,392.0 1165.2,391.0C1168.9,390.2 1172.6,389.3 1176.3,388.1C1180.0,386.9 1183.7,384.1 1187.4,383.7C1191.5,383.3 1195.6,383.5 1199.7,383.0C1201.5,382.8 1203.4,381.5 1205.2,380.3C1207.4,378.8 1209.7,374.8 1211.9,373.6C1213.3,372.8 1214.7,371.9 1216.1,371.9C1217.0,371.9 1218.0,371.9 1218.9,371.9C1220.7,371.9 1222.4,374.4 1224.2,375.9C1227.1,378.3 1229.9,384.3 1232.8,384.3C1233.7,384.3 1234.7,384.3 1235.6,384.3C1237.7,384.3 1239.9,378.8 1242.0,377.0C1243.8,375.4 1245.7,373.2 1247.5,373.2C1248.4,373.2 1249.4,373.2 1250.3,373.2C1252.8,373.2 1255.3,377.7 1257.8,379.2C1260.0,380.6 1262.3,382.3 1264.5,382.5C1267.5,382.8 1270.4,382.7 1273.4,383.0C1276.0,383.3 1278.6,385.4 1281.2,387.0C1283.0,388.1 1284.7,391.0 1286.5,391.0C1287.4,391.0 1288.4,391.0 1289.3,391.0C1291.0,391.0 1292.8,387.6 1294.5,385.9C1298.1,382.3 1301.8,374.8 1305.4,374.8C1306.3,374.8 1307.3,374.8 1308.2,374.8C1311.4,374.8 1314.7,378.8 1317.9,381.4C1320.5,383.5 1323.1,387.4 1325.7,389.2C1327.1,390.2 1328.5,391.5 1329.9,391.5C1330.8,391.5 1331.8,391.5 1332.7,391.5C1335.2,391.5 1337.7,388.6 1340.2,387.0C1343.5,384.8 1346.9,381.2 1350.2,379.9C1352.3,379.1 1354.5,378.1 1356.6,378.1C1357.5,378.1 1358.5,378.1 1359.4,378.1C1361.9,378.1 1364.4,380.9 1366.9,382.1C1370.2,383.7 1373.6,385.2 1376.9,386.6C1378.7,387.4 1380.4,388.8 1382.2,388.8C1383.1,388.8 1384.1,388.8 1385.0,388.8C1387.9,388.8 1390.7,383.7 1393.6,382.5C1396.6,381.3 1399.5,381.1 1402.5,379.9C1404.3,379.2 1406.0,377.0 1407.8,377.0C1408.7,377.0 1409.7,377.0 1410.6,377.0C1412.4,377.0 1414.1,378.9 1415.9,380.3C1417.3,381.3 1418.6,384.3 1420.0,384.3C1420.9,384.3 1421.9,384.3 1422.8,384.3C1424.9,384.3 1427.1,377.9 1429.2,377.0C1431.7,376.0 1434.2,375.2 1436.7,375.2C1437.6,375.2 1438.6,375.2 1439.5,375.2C1443.1,375.2 1446.8,375.3 1450.4,375.4C1453.4,375.5 1456.3,378.4 1459.3,379.9C1461.8,381.2 1464.3,383.7 1466.8,383.7C1467.7,383.7 1468.7,383.7 1469.6,383.7C1471.0,383.7 1472.3,381.1 1473.7,379.2C1475.6,376.6 1477.4,370.7 1479.3,368.1C1480.5,366.5 1481.6,364.3 1482.8,364.3C1483.7,364.3 1484.7,364.3 1485.6,364.3C1486.8,364.3 1488.1,366.2 1489.3,367.4C1491.2,369.2 1493.0,372.5 1494.9,373.6C1498.2,375.6 1501.6,375.7 1504.9,377.6C1506.7,378.6 1508.4,382.5 1510.2,382.5C1511.1,382.5 1512.1,382.5 1513.0,382.5C1514.8,382.5 1516.5,380.1 1518.3,379.2C1520.1,378.3 1521.8,377.0 1523.6,377.0C1524.5,377.0 1525.5,377.0 1526.4,377.0C1528.4,377.0 1530.5,378.8 1532.5,378.8C1533.4,378.8 1534.4,378.8 1535.3,378.8C1539.6,378.8 1543.8,375.4 1548.1,375.4C1549.0,375.4 1550.0,375.4 1550.9,375.4C1553.7,375.4 1556.4,378.8 1559.2,378.8C1560.1,378.8 1561.1,378.8 1562.0,378.8C1564.1,378.8 1566.3,378.0 1568.4,377.0C1570.2,376.1 1572.1,372.5 1573.9,370.3C1576.1,367.6 1578.4,364.1 1580.6,362.5C1582.7,361.0 1584.9,359.2 1587.0,359.2C1587.9,359.2 1588.9,359.2 1589.8,359.2C1591.6,359.2 1593.3,361.2 1595.1,362.5C1597.6,364.4 1600.1,369.6 1602.6,369.6C1603.5,369.6 1604.5,369.6 1605.4,369.6C1608.3,369.6 1611.1,368.0 1614.0,367.4C1617.0,366.8 1619.9,366.8 1622.9,365.9C1624.8,365.3 1626.6,362.2 1628.5,360.3C1630.7,358.0 1632.9,354.9 1635.1,353.2C1638.1,350.9 1641.1,350.2 1644.1,348.0C1646.7,346.1 1649.2,341.4 1651.8,340.2C1653.6,339.4 1655.3,338.5 1657.1,338.5C1658.0,338.5 1659.0,338.5 1659.9,338.5C1661.7,338.5 1663.4,341.0 1665.2,342.5C1667.3,344.3 1669.5,348.7 1671.6,348.7C1672.5,348.7 1673.5,348.7 1674.4,348.7C1675.8,348.7 1677.2,346.4 1678.6,344.7C1680.8,342.0 1683.0,335.7 1685.2,332.5C1687.1,329.8 1688.9,327.3 1690.8,325.8C1693.0,324.1 1695.3,323.1 1697.5,322.0C1698.9,321.3 1700.2,320.2 1701.6,320.2C1702.5,320.2 1703.5,320.2 1704.4,320.2C1705.4,320.2 1706.5,322.2 1707.5,323.6C1709.4,326.2 1711.2,331.4 1713.1,334.7C1714.4,337.0 1715.8,339.9 1717.1,341.1C1718.7,342.5 1720.2,344.0 1721.8,344.0C1722.7,344.0 1723.7,344.0 1724.6,344.0C1726.2,344.0 1727.7,342.1 1729.3,340.8C1731.6,338.9 1733.9,336.0 1736.2,332.7C1738.9,328.8 1741.6,322.3 1744.3,317.6C1746.6,313.5 1749.0,308.2 1751.3,306.1C1752.7,304.8 1754.2,303.3 1755.6,303.3C1756.5,303.3 1757.5,303.3 1758.4,303.3C1759.9,303.3 1761.3,306.1 1762.8,308.4C1764.7,311.4 1766.7,319.4 1768.6,323.4C1770.7,327.7 1772.7,334.1 1774.8,334.1C1775.7,334.1 1776.7,334.1 1777.6,334.1C1780.0,334.1 1782.4,332.2 1784.8,330.4C1787.9,328.1 1791.0,322.5 1794.1,317.6C1796.8,313.3 1799.5,306.9 1802.2,302.6C1804.1,299.5 1806.1,296.1 1808.0,294.5C1809.1,293.6 1810.1,292.6 1811.2,292.6C1812.1,292.6 1813.1,292.6 1814.0,292.6C1815.5,292.6 1816.9,297.8 1818.4,299.1C1820.2,300.8 1822.1,302.6 1823.9,302.6C1824.8,302.6 1825.8,302.6 1826.7,302.6C1828.5,302.6 1830.3,299.6 1832.1,299.6C1833.0,299.6 1834.0,299.6 1834.9,299.6C1837.0,299.6 1839.2,301.9 1841.3,301.9C1842.2,301.9 1843.2,301.9 1844.1,301.9C1847.5,301.9 1850.9,300.5 1854.3,298.7C1856.2,297.7 1858.2,294.4 1860.1,291.0C1861.9,287.9 1863.6,280.3 1865.4,277.1C1866.5,275.2 1867.5,272.5 1868.6,272.5C1869.5,272.5 1870.5,272.5 1871.4,272.5C1872.6,272.5 1873.9,275.6 1875.1,277.1C1877.0,279.5 1879.0,282.7 1880.9,284.1C1882.4,285.2 1883.8,286.4 1885.3,286.4C1886.2,286.4 1887.2,286.4 1888.1,286.4C1891.1,286.4 1894.1,285.8 1897.1,284.8C1899.4,284.0 1901.8,277.8 1904.1,274.8C1906.8,271.4 1909.5,269.8 1912.2,265.5C1914.1,262.4 1916.1,256.9 1918.0,251.7C1919.5,247.6 1921.1,239.9 1922.6,237.8C1923.9,236.0 1925.2,234.3 1926.5,234.3C1927.9,234.3 1929.3,237.5 1930.7,240.1C1932.6,243.7 1934.6,252.0 1936.5,257.4C1938.4,262.8 1940.4,269.7 1942.3,272.5C1943.8,274.6 1945.2,277.1 1946.7,277.1C1947.6,277.1 1948.6,277.1 1949.5,277.1C1951.0,277.1 1952.4,273.5 1953.9,271.3C1955.8,268.4 1957.7,263.9 1959.6,260.9C1961.5,257.8 1963.5,256.7 1965.4,252.8C1967.0,249.6 1968.5,242.4 1970.1,236.6C1971.6,230.9 1973.2,220.8 1974.7,218.1C1976.4,215.1 1978.1,212.3 1979.8,212.3C1981.2,212.3 1982.5,215.4 1983.9,218.1C1985.5,221.2 1987.0,230.3 1988.6,234.3C1990.1,238.2 1991.7,242.3 1993.2,243.6C1994.3,244.5 1995.3,245.4 1996.4,245.4C1997.3,245.4 1998.3,245.4 1999.2,245.4C2000.7,245.4 2002.1,240.0 2003.6,237.8C2005.9,234.3 2008.3,230.8 2010.6,228.5C2013.7,225.5 2016.7,224.4 2019.8,221.6C2022.5,219.1 2025.2,215.8 2027.9,212.3C2029.8,209.8 2031.8,205.1 2033.7,203.7C2034.9,202.8 2036.0,201.9 2037.2,201.9C2038.7,201.9 2040.3,205.7 2041.8,208.8C2043.4,212.0 2044.9,219.0 2046.5,223.9C2048.0,228.7 2049.6,236.2 2051.1,237.8C2052.3,239.0 2053.4,240.1 2054.6,240.1C2055.7,240.1 2056.9,237.6 2058.0,235.4C2059.6,232.3 2061.1,223.1 2062.7,218.1C2064.2,213.2 2065.8,207.6 2067.3,205.3C2068.8,203.0 2070.4,201.9 2071.9,200.7C2074.2,198.8 2076.6,198.2 2078.9,196.1C2081.2,194.0 2083.5,189.7 2085.8,185.7C2087.4,183.0 2088.9,177.7 2090.5,176.4C2091.6,175.5 2092.6,174.6 2093.7,174.6C2094.6,174.6 2095.6,174.6 2096.5,174.6C2098.0,174.6 2099.4,177.7 2100.9,179.9C2102.8,182.8 2104.8,188.3 2106.7,191.5C2108.2,193.9 2109.6,197.7 2111.1,197.7C2112.0,197.7 2113.0,197.7 2113.9,197.7C2115.3,197.7 2116.8,196.1 2118.2,194.9C2120.1,193.3 2122.1,189.3 2124.0,188.0C2126.7,186.2 2129.4,186.3 2132.1,184.5C2134.0,183.2 2136.0,179.7 2137.9,176.4C2139.8,173.1 2141.8,166.4 2143.7,163.7C2144.6,162.4 2145.6,160.7 2146.5,160.7C2147.4,160.7 2148.4,160.7 2149.3,160.7C2151.7,160.7 2154.0,162.6 2156.4,164.8C2158.3,166.6 2160.3,174.4 2162.2,177.6C2163.7,180.0 2165.1,183.4 2166.6,183.4C2167.5,183.4 2168.5,183.4 2169.4,183.4C2170.5,183.4 2171.6,182.1 2172.7,181.0C2174.6,179.1 2176.5,172.3 2178.4,169.5C2181.5,164.9 2184.6,163.9 2187.7,159.0C2189.6,155.9 2191.6,147.8 2193.5,145.1C2195.5,142.2 2197.6,139.0 2199.6,139.0C2200.5,139.0 2201.5,139.0 2202.4,139.0C2204.4,139.0 2206.5,142.3 2208.5,145.1C2210.4,147.8 2212.4,153.4 2214.3,157.9C2215.9,161.6 2217.4,167.0 2219.0,169.5C2220.3,171.6 2221.6,172.6 2222.9,174.1" fill="none" stroke="#111" stroke-width="5.0" stroke-linejoin="round" stroke-linecap="round"/>
<rect x="293.0" y="49.2" width="1939.5" height="355.3" fill="none" stroke="#000" stroke-width="6.6"/>
<line x1="293.0" y1="404.5" x2="293.0" y2="430.5" stroke="#000" stroke-width="6.6"/>
<text transform="translate(293.0,502.7) scale(1,1.035)" class="tk" text-anchor="middle">0</text>
<line x1="508.5" y1="404.5" x2="508.5" y2="430.5" stroke="#000" stroke-width="6.6"/>
<text transform="translate(508.5,502.7) scale(1,1.035)" class="tk" text-anchor="middle">50</text>
<line x1="724.0" y1="404.5" x2="724.0" y2="430.5" stroke="#000" stroke-width="6.6"/>
<text transform="translate(724.0,502.7) scale(1,1.035)" class="tk" text-anchor="middle">100</text>
<line x1="939.5" y1="404.5" x2="939.5" y2="430.5" stroke="#000" stroke-width="6.6"/>
<text transform="translate(939.5,502.7) scale(1,1.035)" class="tk" text-anchor="middle">150</text>
<line x1="1155.0" y1="404.5" x2="1155.0" y2="430.5" stroke="#000" stroke-width="6.6"/>
<text transform="translate(1155.0,502.7) scale(1,1.035)" class="tk" text-anchor="middle">200</text>
<line x1="1370.5" y1="404.5" x2="1370.5" y2="430.5" stroke="#000" stroke-width="6.6"/>
<text transform="translate(1370.5,502.7) scale(1,1.035)" class="tk" text-anchor="middle">250</text>
<line x1="1586.0" y1="404.5" x2="1586.0" y2="430.5" stroke="#000" stroke-width="6.6"/>
<text transform="translate(1586.0,502.7) scale(1,1.035)" class="tk" text-anchor="middle">300</text>
<line x1="1801.5" y1="404.5" x2="1801.5" y2="430.5" stroke="#000" stroke-width="6.6"/>
<text transform="translate(1801.5,502.7) scale(1,1.035)" class="tk" text-anchor="middle">350</text>
<line x1="2017.0" y1="404.5" x2="2017.0" y2="430.5" stroke="#000" stroke-width="6.6"/>
<text transform="translate(2017.0,502.7) scale(1,1.035)" class="tk" text-anchor="middle">400</text>
<line x1="2232.5" y1="404.5" x2="2232.5" y2="430.5" stroke="#000" stroke-width="6.6"/>
<text transform="translate(2232.5,502.7) scale(1,1.035)" class="tk" text-anchor="middle">450</text>
<line x1="265.5" y1="404.5" x2="293.0" y2="404.5" stroke="#000" stroke-width="6.6"/>
<text transform="translate(248.7,426.3) scale(1,1.035)" class="tk" text-anchor="end">0.0</text>
<line x1="265.5" y1="345.3" x2="293.0" y2="345.3" stroke="#000" stroke-width="6.6"/>
<text transform="translate(248.7,367.1) scale(1,1.035)" class="tk" text-anchor="end">0.1</text>
<line x1="265.5" y1="286.1" x2="293.0" y2="286.1" stroke="#000" stroke-width="6.6"/>
<text transform="translate(248.7,307.9) scale(1,1.035)" class="tk" text-anchor="end">0.2</text>
<line x1="265.5" y1="226.8" x2="293.0" y2="226.8" stroke="#000" stroke-width="6.6"/>
<text transform="translate(248.7,248.7) scale(1,1.035)" class="tk" text-anchor="end">0.3</text>
<line x1="265.5" y1="167.6" x2="293.0" y2="167.6" stroke="#000" stroke-width="6.6"/>
<text transform="translate(248.7,189.4) scale(1,1.035)" class="tk" text-anchor="end">0.4</text>
<line x1="265.5" y1="108.4" x2="293.0" y2="108.4" stroke="#000" stroke-width="6.6"/>
<text transform="translate(248.7,130.2) scale(1,1.035)" class="tk" text-anchor="end">0.5</text>
<line x1="265.5" y1="49.2" x2="293.0" y2="49.2" stroke="#000" stroke-width="6.6"/>
<text transform="translate(248.7,71.0) scale(1,1.035)" class="tk" text-anchor="end">0.6</text>
<text transform="translate(401.5,124.0) scale(1,1.03)" class="lab" text-anchor="start">(a)</text>
<text transform="translate(1119.5,140.1) scale(1,1.045)" class="dt" text-anchor="start">ΔT=1.1°C</text>
<path d="M302.0,817.8C302.8,810.1 303.5,800.9 304.3,794.7C305.5,785.2 306.6,778.2 307.8,771.5C309.3,762.7 310.9,754.9 312.4,748.4C314.3,740.2 316.3,732.8 318.2,727.5C320.1,722.2 322.1,717.1 324.0,714.8C325.8,712.6 327.7,710.2 329.5,710.2C330.4,710.2 331.4,710.2 332.3,710.2C334.2,710.2 336.0,712.6 337.9,714.8C339.8,717.1 341.8,722.7 343.7,727.5C345.6,732.3 347.6,739.3 349.5,743.8C351.8,749.2 354.1,755.2 356.4,757.6C358.6,759.9 360.9,762.3 363.1,762.3C364.0,762.3 365.0,762.3 365.9,762.3C368.1,762.3 370.4,760.4 372.6,758.8C375.7,756.6 378.8,750.3 381.9,748.4C384.1,747.0 386.4,745.4 388.6,745.4C389.5,745.4 390.5,745.4 391.4,745.4C393.6,745.4 395.9,747.8 398.1,749.5C401.2,751.8 404.2,756.0 407.3,758.8C410.3,761.6 413.4,766.4 416.4,766.4C417.3,766.4 418.3,766.4 419.2,766.4C421.0,766.4 422.9,763.3 424.7,761.1C427.4,757.8 430.1,751.9 432.8,747.2C435.9,741.8 439.0,735.0 442.1,731.0C444.7,727.6 447.4,722.7 450.0,722.7C450.9,722.7 451.9,722.7 452.8,722.7C455.0,722.7 457.2,725.5 459.4,727.5C461.7,729.6 464.1,733.5 466.4,735.6C468.2,737.2 470.1,739.6 471.9,739.6C472.8,739.6 473.8,739.6 474.7,739.6C476.2,739.6 477.6,735.9 479.1,733.3C481.4,729.2 483.8,722.0 486.1,716.0C488.4,710.1 490.7,703.1 493.0,697.4C495.3,691.6 497.7,685.3 500.0,681.2C502.2,677.3 504.4,671.8 506.6,671.8C507.5,671.8 508.5,671.8 509.4,671.8C511.7,671.8 513.9,674.6 516.2,676.6C518.1,678.3 520.1,682.2 522.0,683.6C523.1,684.4 524.1,685.4 525.2,685.4C526.1,685.4 527.1,685.4 528.0,685.4C529.5,685.4 530.9,682.0 532.4,680.1C534.7,677.0 537.0,672.5 539.3,669.7C541.6,666.9 544.0,663.9 546.3,662.7C548.5,661.6 550.8,660.4 553.0,660.4C553.9,660.4 554.9,660.4 555.8,660.4C558.0,660.4 560.3,662.8 562.5,665.0C564.8,667.2 567.1,672.8 569.4,676.6C571.7,680.5 574.1,686.1 576.4,688.2C578.2,689.9 580.1,691.7 581.9,691.7C582.8,691.7 583.8,691.7 584.7,691.7C586.6,691.7 588.4,689.6 590.3,688.2C593.0,686.2 595.7,682.4 598.4,680.1C600.6,678.2 602.9,675.0 605.1,675.0C606.0,675.0 607.0,675.0 607.9,675.0C610.5,675.0 613.1,676.4 615.7,677.8C618.4,679.2 621.1,682.3 623.8,685.9C626.1,689.0 628.5,694.9 630.8,699.8C632.7,703.8 634.7,710.0 636.6,712.5C638.5,715.0 640.5,717.6 642.4,717.8C645.9,718.1 649.3,718.0 652.8,718.3C655.9,718.6 658.9,719.6 662.0,720.6C665.5,721.7 669.0,722.9 672.5,725.2C674.8,726.7 677.1,730.2 679.4,733.3C682.1,736.9 684.8,743.8 687.5,746.1C689.3,747.7 691.2,749.5 693.0,749.5C693.9,749.5 694.9,749.5 695.8,749.5C697.7,749.5 699.5,745.8 701.4,743.8C704.1,740.9 706.8,736.2 709.5,734.5C712.1,732.8 714.8,731.0 717.4,731.0C718.3,731.0 719.3,731.0 720.2,731.0C722.8,731.0 725.4,732.8 728.0,734.5C730.7,736.2 733.4,740.5 736.1,743.8C738.4,746.7 740.8,750.9 743.1,753.0C744.2,754.0 745.2,755.3 746.3,755.3C747.2,755.3 748.2,755.3 749.1,755.3C750.6,755.3 752.0,751.8 753.5,749.5C755.8,745.9 758.1,739.4 760.4,735.6C763.1,731.1 765.8,726.6 768.5,724.1C771.9,721.0 775.2,717.2 778.6,717.2C779.5,717.2 780.5,717.2 781.4,717.2C783.9,717.2 786.3,718.6 788.8,720.1C790.1,720.9 791.4,723.0 792.7,724.5C795.0,727.2 797.4,730.6 799.7,732.6C800.8,733.5 801.8,734.9 802.9,734.9C803.8,734.9 804.8,734.9 805.7,734.9C807.2,734.9 808.6,732.8 810.1,731.5C813.2,728.8 816.3,724.1 819.4,722.2C822.9,720.1 826.3,719.3 829.8,717.6C832.8,716.2 835.8,712.9 838.8,712.9C839.7,712.9 840.7,712.9 841.6,712.9C843.1,712.9 844.5,714.2 846.0,715.2C848.3,716.8 850.6,720.6 852.9,722.2C856.1,724.4 859.4,727.0 862.6,727.0C863.5,727.0 864.5,727.0 865.4,727.0C870.1,727.0 874.9,722.4 879.6,721.0C883.8,719.8 887.9,718.2 892.1,718.2C893.0,718.2 894.0,718.2 894.9,718.2C897.5,718.2 900.1,720.1 902.7,722.2C904.6,723.7 906.6,728.4 908.5,731.5C910.4,734.6 912.4,738.7 914.3,740.7C915.8,742.2 917.2,744.2 918.7,744.2C919.6,744.2 920.6,744.2 921.5,744.2C925.3,744.2 929.0,744.0 932.8,743.7C935.1,743.5 937.5,741.3 939.8,739.6C942.1,737.9 944.4,733.9 946.7,732.6C948.6,731.5 950.4,730.3 952.3,730.3C953.2,730.3 954.2,730.3 955.1,730.3C956.9,730.3 958.8,732.3 960.6,733.8C962.9,735.7 965.2,739.8 967.5,741.9C969.8,744.0 972.2,746.1 974.5,747.0C976.3,747.7 978.2,748.4 980.0,748.4C980.9,748.4 981.9,748.4 982.8,748.4C986.2,748.4 989.6,748.0 993.0,747.7C996.0,747.4 999.0,746.0 1002.0,746.0C1002.9,746.0 1003.9,746.0 1004.8,746.0C1006.7,746.0 1008.5,747.5 1010.4,748.8C1013.1,750.6 1015.8,755.0 1018.5,758.1C1021.2,761.2 1023.9,764.6 1026.6,767.3C1029.3,770.0 1032.0,772.6 1034.7,774.3C1038.6,776.8 1042.4,777.8 1046.3,780.1C1050.1,782.3 1054.0,784.7 1057.8,788.2C1060.9,791.0 1064.0,795.7 1067.1,799.8C1069.8,803.4 1072.5,808.3 1075.2,811.3C1077.5,813.9 1079.9,816.8 1082.2,817.8C1084.0,818.6 1085.9,819.4 1087.7,819.4C1088.6,819.4 1089.6,819.4 1090.5,819.4C1092.7,819.4 1095.0,818.0 1097.2,817.1C1100.4,815.8 1103.6,812.6 1106.8,812.6C1107.7,812.6 1108.7,812.6 1109.6,812.6C1113.2,812.6 1116.8,814.4 1120.4,816.0C1123.5,817.3 1126.5,820.6 1129.6,822.4C1131.8,823.7 1134.1,825.7 1136.3,825.7C1137.2,825.7 1138.2,825.7 1139.1,825.7C1141.7,825.7 1144.4,824.9 1147.0,824.1C1150.1,823.2 1153.1,820.5 1156.2,819.4C1158.4,818.6 1160.7,817.6 1162.9,817.6C1163.8,817.6 1164.8,817.6 1165.7,817.6C1168.3,817.6 1171.0,819.3 1173.6,820.1C1177.1,821.1 1180.5,822.5 1184.0,822.9C1187.0,823.3 1190.0,823.6 1193.0,823.6C1193.9,823.6 1194.9,823.6 1195.8,823.6C1197.7,823.6 1199.5,822.0 1201.4,821.1C1203.7,819.9 1206.0,817.9 1208.3,817.1C1210.5,816.3 1212.8,815.5 1215.0,815.5C1215.9,815.5 1216.9,815.5 1217.8,815.5C1220.0,815.5 1222.3,816.3 1224.5,817.1C1227.6,818.2 1230.7,821.3 1233.8,823.4C1236.9,825.5 1240.0,828.6 1243.1,829.9C1247.0,831.5 1251.0,833.3 1254.9,833.3C1255.8,833.3 1256.8,833.3 1257.7,833.3C1260.8,833.3 1264.0,830.3 1267.1,830.3C1268.0,830.3 1269.0,830.3 1269.9,830.3C1272.5,830.3 1275.2,832.9 1277.8,834.0C1282.4,835.8 1287.0,836.8 1291.6,838.7C1295.5,840.3 1299.3,844.0 1303.2,844.9C1305.8,845.5 1308.4,846.1 1311.0,846.1C1311.9,846.1 1312.9,846.1 1313.8,846.1C1317.2,846.1 1320.6,844.9 1324.0,844.4C1327.0,844.0 1330.0,843.3 1333.0,843.3C1333.9,843.3 1334.9,843.3 1335.8,843.3C1338.8,843.3 1341.8,844.5 1344.8,844.9C1348.3,845.4 1351.7,845.4 1355.2,846.1C1357.9,846.6 1360.7,849.5 1363.4,851.2C1367.0,853.4 1370.5,857.8 1374.1,857.8C1375.0,857.8 1376.0,857.8 1376.9,857.8C1381.6,857.8 1386.4,857.2 1391.1,856.5C1394.1,856.0 1397.2,853.5 1400.2,853.5C1401.1,853.5 1402.1,853.5 1403.0,853.5C1404.8,853.5 1406.7,856.2 1408.5,857.6C1411.2,859.7 1413.9,862.4 1416.6,864.1C1419.8,866.1 1423.0,869.1 1426.2,869.1C1427.1,869.1 1428.1,869.1 1429.0,869.1C1432.6,869.1 1436.2,865.8 1439.8,864.1C1443.2,862.5 1446.5,859.0 1449.9,859.0C1450.8,859.0 1451.8,859.0 1452.7,859.0C1456.5,859.0 1460.3,860.9 1464.1,862.7C1466.8,864.0 1469.5,867.0 1472.2,869.2C1475.0,871.5 1477.8,876.1 1480.6,876.1C1481.5,876.1 1482.5,876.1 1483.4,876.1C1487.4,876.1 1491.3,872.2 1495.3,871.1C1498.8,870.1 1502.2,869.8 1505.7,868.8C1509.5,867.7 1513.3,864.1 1517.1,864.1C1518.0,864.1 1519.0,864.1 1519.9,864.1C1522.1,864.1 1524.4,867.0 1526.6,868.1C1528.9,869.3 1531.2,870.9 1533.5,871.1C1537.0,871.4 1540.4,871.2 1543.9,871.5C1546.6,871.7 1549.4,874.1 1552.1,875.0C1553.9,875.6 1555.8,876.6 1557.6,876.6C1558.5,876.6 1559.5,876.6 1560.4,876.6C1562.2,876.6 1564.1,874.9 1565.9,873.9C1569.0,872.2 1572.1,869.8 1575.2,868.1C1579.1,866.0 1582.9,864.7 1586.8,862.7C1589.9,861.1 1592.9,859.0 1596.0,857.6C1598.2,856.6 1600.5,854.9 1602.7,854.9C1603.6,854.9 1604.6,854.9 1605.5,854.9C1608.1,854.9 1610.6,856.5 1613.2,856.5C1614.1,856.5 1615.1,856.5 1616.0,856.5C1617.8,856.5 1619.7,853.6 1621.5,851.9C1624.2,849.5 1626.9,846.1 1629.6,843.8C1633.5,840.6 1637.3,838.4 1641.2,835.6C1645.1,832.8 1648.9,829.0 1652.8,827.1C1656.6,825.2 1660.5,824.8 1664.3,822.9C1667.4,821.4 1670.5,818.6 1673.6,816.0C1676.7,813.4 1679.8,809.7 1682.9,807.2C1685.6,805.1 1688.3,802.5 1691.0,801.6C1693.7,800.7 1696.4,799.8 1699.1,799.8C1703.0,799.8 1706.8,799.8 1710.7,799.8C1713.0,799.8 1715.3,801.9 1717.6,803.2C1720.4,804.8 1723.2,809.2 1726.0,809.2C1726.9,809.2 1727.9,809.2 1728.8,809.2C1732.8,809.2 1736.8,806.1 1740.8,804.9C1744.6,803.8 1748.5,802.9 1752.3,802.1C1756.1,801.3 1759.9,800.2 1763.7,800.2C1764.6,800.2 1765.6,800.2 1766.5,800.2C1769.8,800.2 1773.1,803.5 1776.4,803.5C1777.3,803.5 1778.3,803.5 1779.2,803.5C1782.5,803.5 1785.9,802.8 1789.2,802.2C1793.8,801.3 1798.4,798.4 1803.0,797.2C1807.7,796.0 1812.4,794.3 1817.1,794.3C1818.0,794.3 1819.0,794.3 1819.9,794.3C1823.1,794.3 1826.3,797.0 1829.5,798.8C1832.3,800.3 1835.0,804.5 1837.8,804.5C1838.7,804.5 1839.7,804.5 1840.6,804.5C1843.4,804.5 1846.2,801.9 1849.0,799.9C1852.1,797.7 1855.1,793.0 1858.2,789.6C1861.3,786.2 1864.3,782.2 1867.4,779.2C1870.2,776.5 1873.0,772.1 1875.8,772.1C1876.7,772.1 1877.7,772.1 1878.6,772.1C1881.0,772.1 1883.4,774.4 1885.8,775.8C1888.4,777.4 1891.0,781.5 1893.6,781.5C1894.5,781.5 1895.5,781.5 1896.4,781.5C1899.0,781.5 1901.6,778.5 1904.2,775.8C1906.5,773.4 1908.8,767.8 1911.1,763.1C1913.4,758.4 1915.7,751.7 1918.0,747.0C1920.3,742.3 1922.6,736.7 1924.9,734.4C1927.1,732.1 1929.4,729.7 1931.6,729.7C1932.5,729.7 1933.5,729.7 1934.4,729.7C1936.6,729.7 1938.8,731.9 1941.0,733.2C1943.6,734.7 1946.2,738.4 1948.8,738.4C1949.7,738.4 1950.7,738.4 1951.6,738.4C1953.8,738.4 1956.1,735.8 1958.3,733.2C1960.2,731.0 1962.1,725.1 1964.0,720.6C1966.3,715.2 1968.6,708.4 1970.9,703.3C1973.2,698.2 1975.5,693.1 1977.8,689.5C1980.1,685.9 1982.4,682.2 1984.7,680.8C1987.1,679.3 1989.5,677.8 1991.9,677.8C1992.8,677.8 1993.8,677.8 1994.7,677.8C1997.0,677.8 1999.4,681.5 2001.7,681.5C2002.6,681.5 2003.6,681.5 2004.5,681.5C2006.3,681.5 2008.2,679.5 2010.0,678.0C2013.1,675.6 2016.1,670.9 2019.2,667.7C2023.0,663.6 2026.9,660.2 2030.7,656.2C2034.5,652.2 2038.4,647.5 2042.2,643.5C2045.7,639.9 2049.1,636.0 2052.6,633.2C2055.7,630.7 2058.7,628.1 2061.8,627.0C2064.5,626.1 2067.2,625.8 2069.9,625.1C2073.0,624.3 2076.0,623.8 2079.1,622.4C2081.4,621.3 2083.7,618.6 2086.0,615.9C2088.3,613.2 2090.6,608.6 2092.9,605.6C2095.2,602.6 2097.5,598.9 2099.8,597.5C2101.6,596.4 2103.5,595.2 2105.3,595.2C2106.2,595.2 2107.2,595.2 2108.1,595.2C2109.9,595.2 2111.8,597.1 2113.6,598.7C2115.9,600.7 2118.2,605.2 2120.5,609.0C2122.8,612.8 2125.1,618.1 2127.4,621.7C2129.3,624.7 2131.2,628.3 2133.1,629.7C2134.6,630.8 2136.0,632.0 2137.5,632.0C2138.4,632.0 2139.4,632.0 2140.3,632.0C2141.7,632.0 2143.2,630.0 2144.6,628.6C2146.9,626.4 2149.2,621.9 2151.5,619.4C2153.8,616.9 2156.1,614.2 2158.4,613.2C2159.9,612.5 2161.3,611.8 2162.8,611.8C2163.7,611.8 2164.7,611.8 2165.6,611.8C2167.4,611.8 2169.3,613.9 2171.1,615.5C2173.4,617.6 2175.7,622.0 2178.0,625.1C2180.3,628.2 2182.6,632.0 2184.9,634.3C2186.7,636.2 2188.6,638.9 2190.4,638.9C2191.3,638.9 2192.3,638.9 2193.2,638.9C2195.4,638.9 2197.6,636.6 2199.8,635.5C2202.1,634.3 2204.4,632.0 2206.7,632.0C2208.2,632.0 2209.8,635.9 2211.3,637.8C2213.5,640.5 2215.7,645.5 2217.9,645.5C2219.2,645.5 2220.4,639.6 2221.7,632.0C2222.1,629.8 2222.4,623.6 2222.8,619.4L2222.8,905.0L302.0,905.0Z" fill="#E0B9DA" stroke="none"/>
<line x1="2227.0" y1="625.4" x2="2227.0" y2="905.0" stroke="#aaa" stroke-width="2"/>
<line x1="299.2" y1="821.8" x2="299.2" y2="905.0" stroke="#888" stroke-width="1.6"/>
<line x1="2222.8" y1="619.4" x2="2222.8" y2="905.0" stroke="#1a1420" stroke-width="4"/>
<line x1="302.0" y1="817.8" x2="302.0" y2="905.0" stroke="#16121a" stroke-width="4.2"/>
<path d="M302.0,817.8C302.8,810.1 303.5,800.9 304.3,794.7C305.5,785.2 306.6,778.2 307.8,771.5C309.3,762.7 310.9,754.9 312.4,748.4C314.3,740.2 316.3,732.8 318.2,727.5C320.1,722.2 322.1,717.1 324.0,714.8C325.8,712.6 327.7,710.2 329.5,710.2C330.4,710.2 331.4,710.2 332.3,710.2C334.2,710.2 336.0,712.6 337.9,714.8C339.8,717.1 341.8,722.7 343.7,727.5C345.6,732.3 347.6,739.3 349.5,743.8C351.8,749.2 354.1,755.2 356.4,757.6C358.6,759.9 360.9,762.3 363.1,762.3C364.0,762.3 365.0,762.3 365.9,762.3C368.1,762.3 370.4,760.4 372.6,758.8C375.7,756.6 378.8,750.3 381.9,748.4C384.1,747.0 386.4,745.4 388.6,745.4C389.5,745.4 390.5,745.4 391.4,745.4C393.6,745.4 395.9,747.8 398.1,749.5C401.2,751.8 404.2,756.0 407.3,758.8C410.3,761.6 413.4,766.4 416.4,766.4C417.3,766.4 418.3,766.4 419.2,766.4C421.0,766.4 422.9,763.3 424.7,761.1C427.4,757.8 430.1,751.9 432.8,747.2C435.9,741.8 439.0,735.0 442.1,731.0C444.7,727.6 447.4,722.7 450.0,722.7C450.9,722.7 451.9,722.7 452.8,722.7C455.0,722.7 457.2,725.5 459.4,727.5C461.7,729.6 464.1,733.5 466.4,735.6C468.2,737.2 470.1,739.6 471.9,739.6C472.8,739.6 473.8,739.6 474.7,739.6C476.2,739.6 477.6,735.9 479.1,733.3C481.4,729.2 483.8,722.0 486.1,716.0C488.4,710.1 490.7,703.1 493.0,697.4C495.3,691.6 497.7,685.3 500.0,681.2C502.2,677.3 504.4,671.8 506.6,671.8C507.5,671.8 508.5,671.8 509.4,671.8C511.7,671.8 513.9,674.6 516.2,676.6C518.1,678.3 520.1,682.2 522.0,683.6C523.1,684.4 524.1,685.4 525.2,685.4C526.1,685.4 527.1,685.4 528.0,685.4C529.5,685.4 530.9,682.0 532.4,680.1C534.7,677.0 537.0,672.5 539.3,669.7C541.6,666.9 544.0,663.9 546.3,662.7C548.5,661.6 550.8,660.4 553.0,660.4C553.9,660.4 554.9,660.4 555.8,660.4C558.0,660.4 560.3,662.8 562.5,665.0C564.8,667.2 567.1,672.8 569.4,676.6C571.7,680.5 574.1,686.1 576.4,688.2C578.2,689.9 580.1,691.7 581.9,691.7C582.8,691.7 583.8,691.7 584.7,691.7C586.6,691.7 588.4,689.6 590.3,688.2C593.0,686.2 595.7,682.4 598.4,680.1C600.6,678.2 602.9,675.0 605.1,675.0C606.0,675.0 607.0,675.0 607.9,675.0C610.5,675.0 613.1,676.4 615.7,677.8C618.4,679.2 621.1,682.3 623.8,685.9C626.1,689.0 628.5,694.9 630.8,699.8C632.7,703.8 634.7,710.0 636.6,712.5C638.5,715.0 640.5,717.6 642.4,717.8C645.9,718.1 649.3,718.0 652.8,718.3C655.9,718.6 658.9,719.6 662.0,720.6C665.5,721.7 669.0,722.9 672.5,725.2C674.8,726.7 677.1,730.2 679.4,733.3C682.1,736.9 684.8,743.8 687.5,746.1C689.3,747.7 691.2,749.5 693.0,749.5C693.9,749.5 694.9,749.5 695.8,749.5C697.7,749.5 699.5,745.8 701.4,743.8C704.1,740.9 706.8,736.2 709.5,734.5C712.1,732.8 714.8,731.0 717.4,731.0C718.3,731.0 719.3,731.0 720.2,731.0C722.8,731.0 725.4,732.8 728.0,734.5C730.7,736.2 733.4,740.5 736.1,743.8C738.4,746.7 740.8,750.9 743.1,753.0C744.2,754.0 745.2,755.3 746.3,755.3C747.2,755.3 748.2,755.3 749.1,755.3C750.6,755.3 752.0,751.8 753.5,749.5C755.8,745.9 758.1,739.4 760.4,735.6C763.1,731.1 765.8,726.6 768.5,724.1C771.9,721.0 775.2,717.2 778.6,717.2C779.5,717.2 780.5,717.2 781.4,717.2C783.9,717.2 786.3,718.6 788.8,720.1C790.1,720.9 791.4,723.0 792.7,724.5C795.0,727.2 797.4,730.6 799.7,732.6C800.8,733.5 801.8,734.9 802.9,734.9C803.8,734.9 804.8,734.9 805.7,734.9C807.2,734.9 808.6,732.8 810.1,731.5C813.2,728.8 816.3,724.1 819.4,722.2C822.9,720.1 826.3,719.3 829.8,717.6C832.8,716.2 835.8,712.9 838.8,712.9C839.7,712.9 840.7,712.9 841.6,712.9C843.1,712.9 844.5,714.2 846.0,715.2C848.3,716.8 850.6,720.6 852.9,722.2C856.1,724.4 859.4,727.0 862.6,727.0C863.5,727.0 864.5,727.0 865.4,727.0C870.1,727.0 874.9,722.4 879.6,721.0C883.8,719.8 887.9,718.2 892.1,718.2C893.0,718.2 894.0,718.2 894.9,718.2C897.5,718.2 900.1,720.1 902.7,722.2C904.6,723.7 906.6,728.4 908.5,731.5C910.4,734.6 912.4,738.7 914.3,740.7C915.8,742.2 917.2,744.2 918.7,744.2C919.6,744.2 920.6,744.2 921.5,744.2C925.3,744.2 929.0,744.0 932.8,743.7C935.1,743.5 937.5,741.3 939.8,739.6C942.1,737.9 944.4,733.9 946.7,732.6C948.6,731.5 950.4,730.3 952.3,730.3C953.2,730.3 954.2,730.3 955.1,730.3C956.9,730.3 958.8,732.3 960.6,733.8C962.9,735.7 965.2,739.8 967.5,741.9C969.8,744.0 972.2,746.1 974.5,747.0C976.3,747.7 978.2,748.4 980.0,748.4C980.9,748.4 981.9,748.4 982.8,748.4C986.2,748.4 989.6,748.0 993.0,747.7C996.0,747.4 999.0,746.0 1002.0,746.0C1002.9,746.0 1003.9,746.0 1004.8,746.0C1006.7,746.0 1008.5,747.5 1010.4,748.8C1013.1,750.6 1015.8,755.0 1018.5,758.1C1021.2,761.2 1023.9,764.6 1026.6,767.3C1029.3,770.0 1032.0,772.6 1034.7,774.3C1038.6,776.8 1042.4,777.8 1046.3,780.1C1050.1,782.3 1054.0,784.7 1057.8,788.2C1060.9,791.0 1064.0,795.7 1067.1,799.8C1069.8,803.4 1072.5,808.3 1075.2,811.3C1077.5,813.9 1079.9,816.8 1082.2,817.8C1084.0,818.6 1085.9,819.4 1087.7,819.4C1088.6,819.4 1089.6,819.4 1090.5,819.4C1092.7,819.4 1095.0,818.0 1097.2,817.1C1100.4,815.8 1103.6,812.6 1106.8,812.6C1107.7,812.6 1108.7,812.6 1109.6,812.6C1113.2,812.6 1116.8,814.4 1120.4,816.0C1123.5,817.3 1126.5,820.6 1129.6,822.4C1131.8,823.7 1134.1,825.7 1136.3,825.7C1137.2,825.7 1138.2,825.7 1139.1,825.7C1141.7,825.7 1144.4,824.9 1147.0,824.1C1150.1,823.2 1153.1,820.5 1156.2,819.4C1158.4,818.6 1160.7,817.6 1162.9,817.6C1163.8,817.6 1164.8,817.6 1165.7,817.6C1168.3,817.6 1171.0,819.3 1173.6,820.1C1177.1,821.1 1180.5,822.5 1184.0,822.9C1187.0,823.3 1190.0,823.6 1193.0,823.6C1193.9,823.6 1194.9,823.6 1195.8,823.6C1197.7,823.6 1199.5,822.0 1201.4,821.1C1203.7,819.9 1206.0,817.9 1208.3,817.1C1210.5,816.3 1212.8,815.5 1215.0,815.5C1215.9,815.5 1216.9,815.5 1217.8,815.5C1220.0,815.5 1222.3,816.3 1224.5,817.1C1227.6,818.2 1230.7,821.3 1233.8,823.4C1236.9,825.5 1240.0,828.6 1243.1,829.9C1247.0,831.5 1251.0,833.3 1254.9,833.3C1255.8,833.3 1256.8,833.3 1257.7,833.3C1260.8,833.3 1264.0,830.3 1267.1,830.3C1268.0,830.3 1269.0,830.3 1269.9,830.3C1272.5,830.3 1275.2,832.9 1277.8,834.0C1282.4,835.8 1287.0,836.8 1291.6,838.7C1295.5,840.3 1299.3,844.0 1303.2,844.9C1305.8,845.5 1308.4,846.1 1311.0,846.1C1311.9,846.1 1312.9,846.1 1313.8,846.1C1317.2,846.1 1320.6,844.9 1324.0,844.4C1327.0,844.0 1330.0,843.3 1333.0,843.3C1333.9,843.3 1334.9,843.3 1335.8,843.3C1338.8,843.3 1341.8,844.5 1344.8,844.9C1348.3,845.4 1351.7,845.4 1355.2,846.1C1357.9,846.6 1360.7,849.5 1363.4,851.2C1367.0,853.4 1370.5,857.8 1374.1,857.8C1375.0,857.8 1376.0,857.8 1376.9,857.8C1381.6,857.8 1386.4,857.2 1391.1,856.5C1394.1,856.0 1397.2,853.5 1400.2,853.5C1401.1,853.5 1402.1,853.5 1403.0,853.5C1404.8,853.5 1406.7,856.2 1408.5,857.6C1411.2,859.7 1413.9,862.4 1416.6,864.1C1419.8,866.1 1423.0,869.1 1426.2,869.1C1427.1,869.1 1428.1,869.1 1429.0,869.1C1432.6,869.1 1436.2,865.8 1439.8,864.1C1443.2,862.5 1446.5,859.0 1449.9,859.0C1450.8,859.0 1451.8,859.0 1452.7,859.0C1456.5,859.0 1460.3,860.9 1464.1,862.7C1466.8,864.0 1469.5,867.0 1472.2,869.2C1475.0,871.5 1477.8,876.1 1480.6,876.1C1481.5,876.1 1482.5,876.1 1483.4,876.1C1487.4,876.1 1491.3,872.2 1495.3,871.1C1498.8,870.1 1502.2,869.8 1505.7,868.8C1509.5,867.7 1513.3,864.1 1517.1,864.1C1518.0,864.1 1519.0,864.1 1519.9,864.1C1522.1,864.1 1524.4,867.0 1526.6,868.1C1528.9,869.3 1531.2,870.9 1533.5,871.1C1537.0,871.4 1540.4,871.2 1543.9,871.5C1546.6,871.7 1549.4,874.1 1552.1,875.0C1553.9,875.6 1555.8,876.6 1557.6,876.6C1558.5,876.6 1559.5,876.6 1560.4,876.6C1562.2,876.6 1564.1,874.9 1565.9,873.9C1569.0,872.2 1572.1,869.8 1575.2,868.1C1579.1,866.0 1582.9,864.7 1586.8,862.7C1589.9,861.1 1592.9,859.0 1596.0,857.6C1598.2,856.6 1600.5,854.9 1602.7,854.9C1603.6,854.9 1604.6,854.9 1605.5,854.9C1608.1,854.9 1610.6,856.5 1613.2,856.5C1614.1,856.5 1615.1,856.5 1616.0,856.5C1617.8,856.5 1619.7,853.6 1621.5,851.9C1624.2,849.5 1626.9,846.1 1629.6,843.8C1633.5,840.6 1637.3,838.4 1641.2,835.6C1645.1,832.8 1648.9,829.0 1652.8,827.1C1656.6,825.2 1660.5,824.8 1664.3,822.9C1667.4,821.4 1670.5,818.6 1673.6,816.0C1676.7,813.4 1679.8,809.7 1682.9,807.2C1685.6,805.1 1688.3,802.5 1691.0,801.6C1693.7,800.7 1696.4,799.8 1699.1,799.8C1703.0,799.8 1706.8,799.8 1710.7,799.8C1713.0,799.8 1715.3,801.9 1717.6,803.2C1720.4,804.8 1723.2,809.2 1726.0,809.2C1726.9,809.2 1727.9,809.2 1728.8,809.2C1732.8,809.2 1736.8,806.1 1740.8,804.9C1744.6,803.8 1748.5,802.9 1752.3,802.1C1756.1,801.3 1759.9,800.2 1763.7,800.2C1764.6,800.2 1765.6,800.2 1766.5,800.2C1769.8,800.2 1773.1,803.5 1776.4,803.5C1777.3,803.5 1778.3,803.5 1779.2,803.5C1782.5,803.5 1785.9,802.8 1789.2,802.2C1793.8,801.3 1798.4,798.4 1803.0,797.2C1807.7,796.0 1812.4,794.3 1817.1,794.3C1818.0,794.3 1819.0,794.3 1819.9,794.3C1823.1,794.3 1826.3,797.0 1829.5,798.8C1832.3,800.3 1835.0,804.5 1837.8,804.5C1838.7,804.5 1839.7,804.5 1840.6,804.5C1843.4,804.5 1846.2,801.9 1849.0,799.9C1852.1,797.7 1855.1,793.0 1858.2,789.6C1861.3,786.2 1864.3,782.2 1867.4,779.2C1870.2,776.5 1873.0,772.1 1875.8,772.1C1876.7,772.1 1877.7,772.1 1878.6,772.1C1881.0,772.1 1883.4,774.4 1885.8,775.8C1888.4,777.4 1891.0,781.5 1893.6,781.5C1894.5,781.5 1895.5,781.5 1896.4,781.5C1899.0,781.5 1901.6,778.5 1904.2,775.8C1906.5,773.4 1908.8,767.8 1911.1,763.1C1913.4,758.4 1915.7,751.7 1918.0,747.0C1920.3,742.3 1922.6,736.7 1924.9,734.4C1927.1,732.1 1929.4,729.7 1931.6,729.7C1932.5,729.7 1933.5,729.7 1934.4,729.7C1936.6,729.7 1938.8,731.9 1941.0,733.2C1943.6,734.7 1946.2,738.4 1948.8,738.4C1949.7,738.4 1950.7,738.4 1951.6,738.4C1953.8,738.4 1956.1,735.8 1958.3,733.2C1960.2,731.0 1962.1,725.1 1964.0,720.6C1966.3,715.2 1968.6,708.4 1970.9,703.3C1973.2,698.2 1975.5,693.1 1977.8,689.5C1980.1,685.9 1982.4,682.2 1984.7,680.8C1987.1,679.3 1989.5,677.8 1991.9,677.8C1992.8,677.8 1993.8,677.8 1994.7,677.8C1997.0,677.8 1999.4,681.5 2001.7,681.5C2002.6,681.5 2003.6,681.5 2004.5,681.5C2006.3,681.5 2008.2,679.5 2010.0,678.0C2013.1,675.6 2016.1,670.9 2019.2,667.7C2023.0,663.6 2026.9,660.2 2030.7,656.2C2034.5,652.2 2038.4,647.5 2042.2,643.5C2045.7,639.9 2049.1,636.0 2052.6,633.2C2055.7,630.7 2058.7,628.1 2061.8,627.0C2064.5,626.1 2067.2,625.8 2069.9,625.1C2073.0,624.3 2076.0,623.8 2079.1,622.4C2081.4,621.3 2083.7,618.6 2086.0,615.9C2088.3,613.2 2090.6,608.6 2092.9,605.6C2095.2,602.6 2097.5,598.9 2099.8,597.5C2101.6,596.4 2103.5,595.2 2105.3,595.2C2106.2,595.2 2107.2,595.2 2108.1,595.2C2109.9,595.2 2111.8,597.1 2113.6,598.7C2115.9,600.7 2118.2,605.2 2120.5,609.0C2122.8,612.8 2125.1,618.1 2127.4,621.7C2129.3,624.7 2131.2,628.3 2133.1,629.7C2134.6,630.8 2136.0,632.0 2137.5,632.0C2138.4,632.0 2139.4,632.0 2140.3,632.0C2141.7,632.0 2143.2,630.0 2144.6,628.6C2146.9,626.4 2149.2,621.9 2151.5,619.4C2153.8,616.9 2156.1,614.2 2158.4,613.2C2159.9,612.5 2161.3,611.8 2162.8,611.8C2163.7,611.8 2164.7,611.8 2165.6,611.8C2167.4,611.8 2169.3,613.9 2171.1,615.5C2173.4,617.6 2175.7,622.0 2178.0,625.1C2180.3,628.2 2182.6,632.0 2184.9,634.3C2186.7,636.2 2188.6,638.9 2190.4,638.9C2191.3,638.9 2192.3,638.9 2193.2,638.9C2195.4,638.9 2197.6,636.6 2199.8,635.5C2202.1,634.3 2204.4,632.0 2206.7,632.0C2208.2,632.0 2209.8,635.9 2211.3,637.8C2213.5,640.5 2215.7,645.5 2217.9,645.5C2219.2,645.5 2220.4,639.6 2221.7,632.0C2222.1,629.8 2222.4,623.6 2222.8,619.4" fill="none" stroke="#111" stroke-width="4.2" stroke-linejoin="round" stroke-linecap="round"/>
<rect x="293.0" y="549.3" width="1939.5" height="355.70000000000005" fill="none" stroke="#000" stroke-width="6.6"/>
<line x1="293.0" y1="905.0" x2="293.0" y2="931.0" stroke="#000" stroke-width="6.6"/>
<text transform="translate(293.0,1003.2) scale(1,1.035)" class="tk" text-anchor="middle">0</text>
<line x1="508.5" y1="905.0" x2="508.5" y2="931.0" stroke="#000" stroke-width="6.6"/>
<text transform="translate(508.5,1003.2) scale(1,1.035)" class="tk" text-anchor="middle">50</text>
<line x1="724.0" y1="905.0" x2="724.0" y2="931.0" stroke="#000" stroke-width="6.6"/>
<text transform="translate(724.0,1003.2) scale(1,1.035)" class="tk" text-anchor="middle">100</text>
<line x1="939.5" y1="905.0" x2="939.5" y2="931.0" stroke="#000" stroke-width="6.6"/>
<text transform="translate(939.5,1003.2) scale(1,1.035)" class="tk" text-anchor="middle">150</text>
<line x1="1155.0" y1="905.0" x2="1155.0" y2="931.0" stroke="#000" stroke-width="6.6"/>
<text transform="translate(1155.0,1003.2) scale(1,1.035)" class="tk" text-anchor="middle">200</text>
<line x1="1370.5" y1="905.0" x2="1370.5" y2="931.0" stroke="#000" stroke-width="6.6"/>
<text transform="translate(1370.5,1003.2) scale(1,1.035)" class="tk" text-anchor="middle">250</text>
<line x1="1586.0" y1="905.0" x2="1586.0" y2="931.0" stroke="#000" stroke-width="6.6"/>
<text transform="translate(1586.0,1003.2) scale(1,1.035)" class="tk" text-anchor="middle">300</text>
<line x1="1801.5" y1="905.0" x2="1801.5" y2="931.0" stroke="#000" stroke-width="6.6"/>
<text transform="translate(1801.5,1003.2) scale(1,1.035)" class="tk" text-anchor="middle">350</text>
<line x1="2017.0" y1="905.0" x2="2017.0" y2="931.0" stroke="#000" stroke-width="6.6"/>
<text transform="translate(2017.0,1003.2) scale(1,1.035)" class="tk" text-anchor="middle">400</text>
<line x1="2232.5" y1="905.0" x2="2232.5" y2="931.0" stroke="#000" stroke-width="6.6"/>
<text transform="translate(2232.5,1003.2) scale(1,1.035)" class="tk" text-anchor="middle">450</text>
<line x1="265.5" y1="905.0" x2="293.0" y2="905.0" stroke="#000" stroke-width="6.6"/>
<text transform="translate(248.7,926.8) scale(1,1.035)" class="tk" text-anchor="end">0.0</text>
<line x1="265.5" y1="816.1" x2="293.0" y2="816.1" stroke="#000" stroke-width="6.6"/>
<text transform="translate(248.7,837.9) scale(1,1.035)" class="tk" text-anchor="end">0.1</text>
<line x1="265.5" y1="727.1" x2="293.0" y2="727.1" stroke="#000" stroke-width="6.6"/>
<text transform="translate(248.7,748.9) scale(1,1.035)" class="tk" text-anchor="end">0.2</text>
<line x1="265.5" y1="638.2" x2="293.0" y2="638.2" stroke="#000" stroke-width="6.6"/>
<text transform="translate(248.7,660.0) scale(1,1.035)" class="tk" text-anchor="end">0.3</text>
<line x1="265.5" y1="549.3" x2="293.0" y2="549.3" stroke="#000" stroke-width="6.6"/>
<text transform="translate(248.7,571.1) scale(1,1.035)" class="tk" text-anchor="end">0.4</text>
<text transform="translate(431.5,622.0) scale(1,1.03)" class="lab" text-anchor="start">(b)</text>
<text transform="translate(1119.5,630.3) scale(1,1.045)" class="dt" text-anchor="start">ΔT=0.8°C</text>
<path d="M302.0,1341.0C302.4,1334.8 302.8,1326.9 303.2,1322.5C304.0,1314.1 304.7,1307.9 305.5,1303.9C306.6,1298.0 307.8,1293.0 308.9,1291.2C310.1,1289.4 311.2,1288.1 312.4,1287.7C314.3,1287.0 316.3,1287.2 318.2,1286.6C320.1,1286.0 322.1,1281.3 324.0,1279.6C326.2,1277.6 328.5,1275.0 330.7,1275.0C331.6,1275.0 332.6,1275.0 333.5,1275.0C335.7,1275.0 338.0,1276.4 340.2,1277.3C343.4,1278.6 346.6,1282.2 349.8,1282.2C350.7,1282.2 351.7,1282.2 352.6,1282.2C355.4,1282.2 358.2,1279.6 361.0,1277.3C363.7,1275.1 366.4,1269.7 369.1,1265.7C371.8,1261.7 374.5,1256.4 377.2,1253.0C379.8,1249.6 382.5,1244.5 385.1,1244.5C386.0,1244.5 387.0,1244.5 387.9,1244.5C390.1,1244.5 392.4,1247.1 394.6,1249.5C397.3,1252.4 400.0,1260.5 402.7,1265.7C405.4,1270.9 408.1,1277.0 410.8,1280.8C413.6,1284.8 416.5,1290.3 419.3,1290.3C420.2,1290.3 421.2,1290.3 422.1,1290.3C424.5,1290.3 426.9,1287.4 429.3,1284.3C431.2,1281.8 433.2,1274.4 435.1,1269.2C437.4,1262.9 439.8,1254.6 442.1,1249.5C444.0,1245.3 446.0,1240.6 447.9,1239.1C449.4,1237.9 450.8,1236.8 452.3,1236.8C453.2,1236.8 454.2,1236.8 455.1,1236.8C456.5,1236.8 458.0,1238.7 459.4,1240.3C461.7,1242.9 464.1,1249.4 466.4,1254.2C468.7,1259.0 471.0,1265.3 473.3,1269.2C475.2,1272.5 477.2,1275.9 479.1,1277.3C480.6,1278.4 482.0,1279.6 483.5,1279.6C484.4,1279.6 485.4,1279.6 486.3,1279.6C488.2,1279.6 490.0,1276.7 491.9,1275.0C493.8,1273.2 495.7,1270.0 497.6,1268.8C499.1,1267.9 500.5,1266.9 502.0,1266.9C502.9,1266.9 503.9,1266.9 504.8,1266.9C506.7,1266.9 508.5,1268.9 510.4,1270.4C513.1,1272.6 515.8,1277.1 518.5,1280.8C521.2,1284.5 523.9,1289.2 526.6,1292.4C528.8,1295.1 531.1,1299.3 533.3,1299.3C534.2,1299.3 535.2,1299.3 536.1,1299.3C537.6,1299.3 539.0,1296.7 540.5,1294.7C542.8,1291.6 545.1,1284.2 547.4,1280.8C550.0,1276.9 552.7,1271.7 555.3,1271.7C556.2,1271.7 557.2,1271.7 558.1,1271.7C560.7,1271.7 563.3,1275.3 565.9,1278.5C568.2,1281.3 570.6,1287.7 572.9,1292.4C575.2,1297.0 577.5,1303.4 579.8,1306.3C582.6,1309.9 585.5,1314.0 588.3,1314.0C589.2,1314.0 590.2,1314.0 591.1,1314.0C593.5,1314.0 596.0,1311.9 598.4,1309.7C600.7,1307.6 603.0,1300.1 605.3,1297.0C607.9,1293.5 610.6,1288.7 613.2,1288.7C614.1,1288.7 615.1,1288.7 616.0,1288.7C618.6,1288.7 621.2,1291.4 623.8,1293.5C626.9,1296.0 630.0,1301.0 633.1,1305.1C635.8,1308.7 638.5,1313.7 641.2,1316.7C643.4,1319.2 645.7,1322.9 647.9,1322.9C648.8,1322.9 649.8,1322.9 650.7,1322.9C652.2,1322.9 653.6,1320.8 655.1,1319.0C657.4,1316.2 659.7,1308.1 662.0,1305.1C664.3,1302.0 666.7,1299.3 669.0,1298.2C670.8,1297.4 672.7,1296.5 674.5,1296.5C675.4,1296.5 676.4,1296.5 677.3,1296.5C679.5,1296.5 681.8,1298.1 684.0,1299.3C687.1,1300.9 690.2,1304.7 693.3,1306.3C695.1,1307.3 697.0,1308.6 698.8,1308.6C699.7,1308.6 700.7,1308.6 701.6,1308.6C703.5,1308.6 705.3,1305.4 707.2,1302.8C709.5,1299.6 711.8,1292.3 714.1,1287.7C716.4,1283.1 718.8,1277.2 721.1,1275.0C722.9,1273.3 724.8,1271.5 726.6,1271.5C727.5,1271.5 728.5,1271.5 729.4,1271.5C731.3,1271.5 733.1,1274.1 735.0,1276.2C737.7,1279.2 740.4,1286.6 743.1,1291.2C745.8,1295.8 748.5,1301.2 751.2,1303.9C753.4,1306.2 755.7,1309.0 757.9,1309.0C758.8,1309.0 759.8,1309.0 760.7,1309.0C762.5,1309.0 764.4,1306.7 766.2,1305.1C768.9,1302.7 771.6,1296.9 774.3,1294.7C776.7,1292.7 779.1,1290.3 781.5,1290.3C782.4,1290.3 783.4,1290.3 784.3,1290.3C787.1,1290.3 789.9,1293.0 792.7,1295.1C795.8,1297.4 798.9,1302.1 802.0,1305.5C804.7,1308.4 807.4,1312.7 810.1,1314.1C811.9,1315.0 813.8,1316.0 815.6,1316.0C816.5,1316.0 817.5,1316.0 818.4,1316.0C820.3,1316.0 822.1,1312.9 824.0,1311.3C826.7,1308.9 829.4,1305.2 832.1,1303.9C833.9,1303.0 835.8,1302.1 837.6,1302.1C838.5,1302.1 839.5,1302.1 840.4,1302.1C842.6,1302.1 844.9,1304.6 847.1,1305.5C850.6,1306.9 854.1,1307.9 857.6,1309.0C860.2,1309.8 862.8,1311.3 865.4,1311.3C866.3,1311.3 867.3,1311.3 868.2,1311.3C869.7,1311.3 871.1,1310.1 872.6,1309.0C874.9,1307.3 877.3,1302.7 879.6,1299.8C881.9,1296.9 884.2,1293.4 886.5,1291.7C888.0,1290.6 889.4,1289.3 890.9,1289.3C891.8,1289.3 892.8,1289.3 893.7,1289.3C895.5,1289.3 897.4,1291.1 899.2,1292.8C901.5,1295.0 903.9,1301.4 906.2,1306.7C908.5,1311.9 910.8,1320.2 913.1,1325.2C915.4,1330.3 917.8,1335.4 920.1,1338.0C921.9,1340.1 923.8,1342.6 925.6,1342.6C926.5,1342.6 927.5,1342.6 928.4,1342.6C930.3,1342.6 932.1,1341.3 934.0,1340.3C936.7,1338.9 939.4,1335.0 942.1,1334.0C943.9,1333.3 945.8,1332.6 947.6,1332.6C948.5,1332.6 949.5,1332.6 950.4,1332.6C952.6,1332.6 954.9,1334.2 957.1,1335.6C959.8,1337.3 962.5,1341.6 965.2,1343.8C968.0,1346.1 970.9,1349.5 973.7,1349.5C974.6,1349.5 975.6,1349.5 976.5,1349.5C979.7,1349.5 982.9,1347.6 986.1,1346.1C988.9,1344.8 991.7,1340.0 994.5,1340.0C995.4,1340.0 996.4,1340.0 997.3,1340.0C1000.1,1340.0 1002.9,1342.3 1005.7,1343.8C1008.4,1345.3 1011.2,1347.6 1013.9,1349.5C1016.6,1351.4 1019.3,1353.9 1022.0,1355.3C1023.4,1356.1 1024.9,1357.2 1026.3,1357.2C1027.2,1357.2 1028.2,1357.2 1029.1,1357.2C1030.6,1357.2 1032.0,1354.4 1033.5,1351.9C1035.4,1348.6 1037.4,1339.7 1039.3,1334.5C1041.2,1329.3 1043.2,1323.9 1045.1,1320.6C1047.4,1316.6 1049.8,1313.5 1052.1,1311.3C1054.7,1308.9 1057.3,1305.7 1059.9,1305.7C1060.8,1305.7 1061.8,1305.7 1062.7,1305.7C1064.9,1305.7 1067.2,1308.8 1069.4,1311.3C1071.7,1313.9 1074.1,1320.0 1076.4,1322.9C1078.8,1325.9 1081.3,1330.1 1083.7,1330.1C1084.6,1330.1 1085.6,1330.1 1086.5,1330.1C1089.7,1330.1 1092.8,1328.1 1096.0,1326.4C1098.7,1324.9 1101.4,1321.7 1104.1,1319.4C1106.8,1317.1 1109.6,1314.0 1112.3,1312.5C1115.1,1310.9 1117.9,1309.0 1120.7,1309.0C1121.6,1309.0 1122.6,1309.0 1123.5,1309.0C1126.3,1309.0 1129.1,1312.9 1131.9,1316.0C1134.6,1318.9 1137.3,1324.6 1140.0,1328.7C1142.3,1332.3 1144.7,1337.3 1147.0,1339.1C1150.2,1341.6 1153.4,1344.1 1156.6,1344.1C1157.5,1344.1 1158.5,1344.1 1159.4,1344.1C1162.9,1344.1 1166.4,1342.6 1169.9,1342.6C1170.8,1342.6 1171.8,1342.6 1172.7,1342.6C1174.9,1342.6 1177.2,1343.5 1179.4,1344.2C1182.1,1345.1 1184.8,1346.9 1187.5,1348.4C1190.7,1350.2 1193.9,1354.4 1197.1,1354.4C1198.0,1354.4 1199.0,1354.4 1199.9,1354.4C1202.7,1354.4 1205.5,1352.2 1208.3,1350.7C1210.6,1349.5 1213.0,1347.1 1215.3,1346.1C1217.1,1345.3 1219.0,1344.2 1220.8,1344.2C1221.7,1344.2 1222.7,1344.2 1223.6,1344.2C1225.8,1344.2 1228.1,1345.4 1230.3,1346.1C1233.8,1347.2 1237.3,1348.6 1240.8,1350.2C1243.9,1351.6 1246.9,1353.6 1250.0,1354.9C1251.5,1355.5 1252.9,1356.5 1254.4,1356.5C1255.3,1356.5 1256.3,1356.5 1257.2,1356.5C1259.1,1356.5 1260.9,1353.4 1262.8,1351.9C1265.1,1350.1 1267.4,1347.8 1269.7,1346.8C1272.1,1345.8 1274.5,1344.7 1276.9,1344.7C1277.8,1344.7 1278.8,1344.7 1279.7,1344.7C1282.9,1344.7 1286.1,1346.9 1289.3,1348.4C1292.8,1350.0 1296.2,1352.3 1299.7,1354.2C1302.7,1355.9 1305.7,1359.2 1308.7,1359.2C1309.6,1359.2 1310.6,1359.2 1311.5,1359.2C1315.3,1359.2 1319.0,1355.5 1322.8,1354.2C1325.4,1353.3 1328.1,1351.9 1330.7,1351.9C1331.6,1351.9 1332.6,1351.9 1333.5,1351.9C1336.5,1351.9 1339.5,1353.5 1342.5,1354.2C1346.4,1355.1 1350.2,1355.7 1354.1,1356.5C1357.5,1357.2 1360.9,1358.8 1364.3,1358.8C1365.2,1358.8 1366.2,1358.8 1367.1,1358.8C1368.9,1358.8 1370.8,1356.7 1372.6,1355.3C1374.9,1353.5 1377.3,1349.3 1379.6,1347.9C1381.4,1346.8 1383.3,1345.6 1385.1,1345.6C1386.0,1345.6 1387.0,1345.6 1387.9,1345.6C1389.8,1345.6 1391.6,1347.3 1393.5,1348.4C1395.8,1349.8 1398.1,1352.4 1400.4,1353.5C1402.6,1354.5 1404.9,1355.8 1407.1,1355.8C1408.0,1355.8 1409.0,1355.8 1409.9,1355.8C1412.9,1355.8 1415.9,1355.6 1418.9,1355.3C1421.2,1355.1 1423.6,1353.4 1425.9,1351.9C1428.2,1350.4 1430.5,1346.3 1432.8,1344.9C1435.0,1343.5 1437.3,1341.9 1439.5,1341.9C1440.4,1341.9 1441.4,1341.9 1442.3,1341.9C1444.2,1341.9 1446.0,1343.7 1447.9,1344.9C1450.2,1346.4 1452.5,1349.4 1454.8,1350.7C1456.7,1351.7 1458.5,1353.0 1460.4,1353.0C1461.3,1353.0 1462.3,1353.0 1463.2,1353.0C1465.0,1353.0 1466.9,1351.5 1468.7,1350.7C1471.8,1349.3 1474.9,1347.7 1478.0,1346.1C1481.2,1344.4 1484.4,1340.8 1487.6,1340.8C1488.5,1340.8 1489.5,1340.8 1490.4,1340.8C1492.8,1340.8 1495.2,1343.0 1497.6,1344.9C1499.9,1346.8 1502.3,1351.5 1504.6,1354.2C1506.9,1356.8 1509.2,1359.8 1511.5,1361.1C1513.4,1362.2 1515.2,1363.4 1517.1,1363.4C1518.0,1363.4 1519.0,1363.4 1519.9,1363.4C1522.1,1363.4 1524.4,1361.5 1526.6,1360.4C1530.1,1358.6 1533.5,1355.5 1537.0,1354.2C1539.6,1353.2 1542.3,1351.9 1544.9,1351.9C1545.8,1351.9 1546.8,1351.9 1547.7,1351.9C1549.5,1351.9 1551.4,1353.9 1553.2,1355.3C1555.9,1357.3 1558.6,1361.0 1561.3,1363.4C1563.6,1365.5 1566.0,1368.2 1568.3,1369.2C1570.1,1370.0 1572.0,1370.8 1573.8,1370.8C1574.7,1370.8 1575.7,1370.8 1576.6,1370.8C1578.1,1370.8 1579.5,1369.3 1581.0,1368.1C1583.3,1366.2 1585.6,1361.8 1587.9,1358.8C1590.2,1355.8 1592.6,1351.9 1594.9,1350.2C1596.4,1349.2 1597.8,1347.9 1599.3,1347.9C1600.2,1347.9 1601.2,1347.9 1602.1,1347.9C1603.9,1347.9 1605.8,1350.1 1607.6,1351.9C1609.9,1354.2 1612.3,1359.5 1614.6,1363.4C1616.9,1367.2 1619.2,1372.1 1621.5,1375.0C1623.9,1378.0 1626.4,1382.2 1628.8,1382.2C1629.7,1382.2 1630.7,1382.2 1631.6,1382.2C1634.0,1382.2 1636.5,1379.1 1638.9,1376.2C1641.2,1373.4 1643.5,1365.2 1645.8,1361.1C1648.1,1357.0 1650.5,1352.7 1652.8,1350.7C1654.6,1349.1 1656.5,1347.2 1658.3,1347.2C1659.2,1347.2 1660.2,1347.2 1661.1,1347.2C1663.0,1347.2 1664.8,1350.0 1666.7,1351.9C1669.0,1354.3 1671.3,1358.5 1673.6,1361.1C1675.9,1363.8 1678.3,1366.8 1680.6,1368.1C1682.8,1369.4 1685.1,1370.8 1687.3,1370.8C1688.2,1370.8 1689.2,1370.8 1690.1,1370.8C1691.5,1370.8 1693.0,1367.7 1694.4,1365.7C1696.7,1362.4 1699.1,1355.4 1701.4,1353.0C1704.0,1350.3 1706.7,1347.4 1709.3,1347.4C1710.2,1347.4 1711.2,1347.4 1712.1,1347.4C1714.7,1347.4 1717.3,1350.5 1719.9,1353.0C1722.2,1355.3 1724.6,1360.0 1726.9,1363.4C1729.2,1366.8 1731.5,1371.3 1733.8,1373.4C1735.7,1375.1 1737.5,1377.3 1739.4,1377.3C1740.3,1377.3 1741.3,1377.3 1742.2,1377.3C1743.6,1377.3 1745.1,1375.6 1746.5,1373.9C1748.4,1371.7 1750.4,1365.0 1752.3,1360.0C1754.2,1355.0 1756.2,1347.9 1758.1,1343.8C1760.0,1339.7 1762.0,1335.6 1763.9,1334.0C1765.8,1332.5 1767.6,1331.0 1769.5,1331.0C1770.4,1331.0 1771.4,1331.0 1772.3,1331.0C1774.1,1331.0 1776.0,1332.9 1777.8,1334.0C1781.6,1336.2 1785.4,1339.1 1789.2,1341.4C1791.8,1343.0 1794.4,1346.0 1797.0,1346.0C1797.9,1346.0 1798.9,1346.0 1799.8,1346.0C1801.3,1346.0 1802.7,1344.2 1804.2,1342.5C1806.1,1340.3 1808.0,1334.5 1809.9,1329.9C1812.2,1324.4 1814.5,1315.9 1816.8,1311.5C1819.1,1307.1 1821.4,1302.8 1823.7,1301.1C1825.2,1300.0 1826.6,1298.8 1828.1,1298.8C1829.0,1298.8 1830.0,1298.8 1830.9,1298.8C1832.7,1298.8 1834.6,1301.4 1836.4,1303.4C1838.7,1305.9 1841.0,1311.5 1843.3,1314.9C1845.6,1318.3 1847.9,1322.7 1850.2,1324.1C1852.0,1325.2 1853.9,1326.4 1855.7,1326.4C1856.6,1326.4 1857.6,1326.4 1858.5,1326.4C1859.9,1326.4 1861.4,1323.3 1862.8,1320.7C1864.7,1317.2 1866.7,1307.8 1868.6,1302.2C1870.5,1296.7 1872.4,1290.1 1874.3,1287.3C1876.1,1284.6 1878.0,1281.5 1879.8,1281.5C1880.7,1281.5 1881.7,1281.5 1882.6,1281.5C1884.4,1281.5 1886.3,1284.8 1888.1,1287.3C1890.8,1290.9 1893.5,1298.4 1896.2,1303.4C1898.9,1308.3 1901.5,1314.0 1904.2,1317.2C1906.0,1319.4 1907.9,1322.5 1909.7,1322.5C1910.6,1322.5 1911.6,1322.5 1912.5,1322.5C1914.0,1322.5 1915.4,1319.8 1916.9,1317.2C1918.8,1313.9 1920.7,1303.7 1922.6,1297.6C1924.5,1291.4 1926.5,1284.0 1928.4,1280.4C1930.4,1276.7 1932.4,1272.4 1934.4,1272.4C1935.3,1272.4 1936.3,1272.4 1937.2,1272.4C1939.2,1272.4 1941.3,1275.6 1943.3,1278.1C1946.0,1281.5 1948.7,1289.3 1951.4,1294.2C1953.7,1298.4 1956.0,1303.2 1958.3,1305.7C1960.1,1307.7 1962.0,1310.3 1963.8,1310.3C1964.7,1310.3 1965.7,1310.3 1966.6,1310.3C1968.4,1310.3 1970.3,1307.4 1972.1,1304.6C1974.0,1301.7 1975.9,1293.5 1977.8,1288.4C1979.7,1283.2 1981.7,1276.5 1983.6,1273.5C1985.6,1270.3 1987.6,1266.7 1989.6,1266.7C1990.5,1266.7 1991.5,1266.7 1992.4,1266.7C1994.4,1266.7 1996.5,1269.9 1998.5,1272.3C2001.2,1275.5 2003.9,1281.9 2006.6,1286.1C2009.3,1290.3 2011.9,1294.5 2014.6,1297.6C2016.8,1300.2 2019.1,1304.1 2021.3,1304.1C2022.2,1304.1 2023.2,1304.1 2024.1,1304.1C2025.9,1304.1 2027.8,1301.4 2029.6,1298.8C2031.5,1296.1 2033.4,1288.5 2035.3,1283.8C2037.2,1279.0 2039.2,1272.4 2041.1,1270.0C2042.9,1267.7 2044.8,1265.4 2046.6,1265.4C2047.5,1265.4 2048.5,1265.4 2049.4,1265.4C2051.2,1265.4 2053.1,1268.1 2054.9,1270.0C2057.6,1272.8 2060.3,1277.8 2063.0,1281.5C2065.7,1285.1 2068.3,1289.2 2071.0,1291.9C2072.8,1293.7 2074.7,1296.5 2076.5,1296.5C2077.4,1296.5 2078.4,1296.5 2079.3,1296.5C2081.1,1296.5 2083.0,1294.2 2084.8,1291.9C2087.1,1289.1 2089.4,1280.9 2091.7,1274.6C2094.0,1268.3 2096.3,1258.6 2098.6,1253.9C2100.8,1249.3 2103.1,1243.4 2105.3,1243.4C2106.2,1243.4 2107.2,1243.4 2108.1,1243.4C2110.7,1243.4 2113.3,1246.2 2115.9,1248.2C2118.6,1250.2 2121.2,1254.7 2123.9,1256.2C2125.7,1257.3 2127.6,1258.5 2129.4,1258.5C2130.3,1258.5 2131.3,1258.5 2132.2,1258.5C2134.0,1258.5 2135.9,1255.5 2137.7,1252.8C2140.0,1249.4 2142.3,1240.3 2144.6,1233.2C2146.9,1226.1 2149.2,1216.2 2151.5,1210.2C2153.8,1204.2 2156.1,1197.8 2158.4,1195.3C2160.8,1192.6 2163.3,1189.9 2165.7,1189.9C2166.6,1189.9 2167.6,1189.9 2168.5,1189.9C2170.5,1189.9 2172.5,1194.2 2174.5,1196.4C2177.1,1199.2 2179.7,1205.0 2182.3,1205.0C2183.2,1205.0 2184.2,1205.0 2185.1,1205.0C2187.3,1205.0 2189.6,1201.7 2191.8,1198.7C2194.1,1195.6 2196.4,1188.6 2198.7,1182.6C2201.0,1176.6 2203.3,1170.3 2205.6,1161.9C2207.1,1156.3 2208.7,1149.6 2210.2,1141.2C2211.3,1135.0 2212.5,1125.0 2213.6,1118.2C2214.4,1113.6 2215.1,1107.4 2215.9,1105.6C2216.5,1104.1 2217.2,1102.6 2217.8,1102.6C2218.5,1102.6 2219.1,1105.8 2219.8,1109.0C2220.4,1112.1 2221.1,1118.7 2221.7,1127.4C2222.1,1132.4 2222.4,1142.7 2222.8,1150.4L2222.8,1403.5L302.0,1403.5Z" fill="#FEBACF" stroke="none"/>
<line x1="2227.0" y1="1156.4" x2="2227.0" y2="1403.5" stroke="#aaa" stroke-width="2"/>
<line x1="299.2" y1="1345.0" x2="299.2" y2="1403.5" stroke="#888" stroke-width="1.6"/>
<line x1="2222.8" y1="1150.4" x2="2222.8" y2="1403.5" stroke="#1a1420" stroke-width="4"/>
<line x1="302.0" y1="1341.0" x2="302.0" y2="1403.5" stroke="#16121a" stroke-width="4.4"/>
<path d="M302.0,1341.0C302.4,1334.8 302.8,1326.9 303.2,1322.5C304.0,1314.1 304.7,1307.9 305.5,1303.9C306.6,1298.0 307.8,1293.0 308.9,1291.2C310.1,1289.4 311.2,1288.1 312.4,1287.7C314.3,1287.0 316.3,1287.2 318.2,1286.6C320.1,1286.0 322.1,1281.3 324.0,1279.6C326.2,1277.6 328.5,1275.0 330.7,1275.0C331.6,1275.0 332.6,1275.0 333.5,1275.0C335.7,1275.0 338.0,1276.4 340.2,1277.3C343.4,1278.6 346.6,1282.2 349.8,1282.2C350.7,1282.2 351.7,1282.2 352.6,1282.2C355.4,1282.2 358.2,1279.6 361.0,1277.3C363.7,1275.1 366.4,1269.7 369.1,1265.7C371.8,1261.7 374.5,1256.4 377.2,1253.0C379.8,1249.6 382.5,1244.5 385.1,1244.5C386.0,1244.5 387.0,1244.5 387.9,1244.5C390.1,1244.5 392.4,1247.1 394.6,1249.5C397.3,1252.4 400.0,1260.5 402.7,1265.7C405.4,1270.9 408.1,1277.0 410.8,1280.8C413.6,1284.8 416.5,1290.3 419.3,1290.3C420.2,1290.3 421.2,1290.3 422.1,1290.3C424.5,1290.3 426.9,1287.4 429.3,1284.3C431.2,1281.8 433.2,1274.4 435.1,1269.2C437.4,1262.9 439.8,1254.6 442.1,1249.5C444.0,1245.3 446.0,1240.6 447.9,1239.1C449.4,1237.9 450.8,1236.8 452.3,1236.8C453.2,1236.8 454.2,1236.8 455.1,1236.8C456.5,1236.8 458.0,1238.7 459.4,1240.3C461.7,1242.9 464.1,1249.4 466.4,1254.2C468.7,1259.0 471.0,1265.3 473.3,1269.2C475.2,1272.5 477.2,1275.9 479.1,1277.3C480.6,1278.4 482.0,1279.6 483.5,1279.6C484.4,1279.6 485.4,1279.6 486.3,1279.6C488.2,1279.6 490.0,1276.7 491.9,1275.0C493.8,1273.2 495.7,1270.0 497.6,1268.8C499.1,1267.9 500.5,1266.9 502.0,1266.9C502.9,1266.9 503.9,1266.9 504.8,1266.9C506.7,1266.9 508.5,1268.9 510.4,1270.4C513.1,1272.6 515.8,1277.1 518.5,1280.8C521.2,1284.5 523.9,1289.2 526.6,1292.4C528.8,1295.1 531.1,1299.3 533.3,1299.3C534.2,1299.3 535.2,1299.3 536.1,1299.3C537.6,1299.3 539.0,1296.7 540.5,1294.7C542.8,1291.6 545.1,1284.2 547.4,1280.8C550.0,1276.9 552.7,1271.7 555.3,1271.7C556.2,1271.7 557.2,1271.7 558.1,1271.7C560.7,1271.7 563.3,1275.3 565.9,1278.5C568.2,1281.3 570.6,1287.7 572.9,1292.4C575.2,1297.0 577.5,1303.4 579.8,1306.3C582.6,1309.9 585.5,1314.0 588.3,1314.0C589.2,1314.0 590.2,1314.0 591.1,1314.0C593.5,1314.0 596.0,1311.9 598.4,1309.7C600.7,1307.6 603.0,1300.1 605.3,1297.0C607.9,1293.5 610.6,1288.7 613.2,1288.7C614.1,1288.7 615.1,1288.7 616.0,1288.7C618.6,1288.7 621.2,1291.4 623.8,1293.5C626.9,1296.0 630.0,1301.0 633.1,1305.1C635.8,1308.7 638.5,1313.7 641.2,1316.7C643.4,1319.2 645.7,1322.9 647.9,1322.9C648.8,1322.9 649.8,1322.9 650.7,1322.9C652.2,1322.9 653.6,1320.8 655.1,1319.0C657.4,1316.2 659.7,1308.1 662.0,1305.1C664.3,1302.0 666.7,1299.3 669.0,1298.2C670.8,1297.4 672.7,1296.5 674.5,1296.5C675.4,1296.5 676.4,1296.5 677.3,1296.5C679.5,1296.5 681.8,1298.1 684.0,1299.3C687.1,1300.9 690.2,1304.7 693.3,1306.3C695.1,1307.3 697.0,1308.6 698.8,1308.6C699.7,1308.6 700.7,1308.6 701.6,1308.6C703.5,1308.6 705.3,1305.4 707.2,1302.8C709.5,1299.6 711.8,1292.3 714.1,1287.7C716.4,1283.1 718.8,1277.2 721.1,1275.0C722.9,1273.3 724.8,1271.5 726.6,1271.5C727.5,1271.5 728.5,1271.5 729.4,1271.5C731.3,1271.5 733.1,1274.1 735.0,1276.2C737.7,1279.2 740.4,1286.6 743.1,1291.2C745.8,1295.8 748.5,1301.2 751.2,1303.9C753.4,1306.2 755.7,1309.0 757.9,1309.0C758.8,1309.0 759.8,1309.0 760.7,1309.0C762.5,1309.0 764.4,1306.7 766.2,1305.1C768.9,1302.7 771.6,1296.9 774.3,1294.7C776.7,1292.7 779.1,1290.3 781.5,1290.3C782.4,1290.3 783.4,1290.3 784.3,1290.3C787.1,1290.3 789.9,1293.0 792.7,1295.1C795.8,1297.4 798.9,1302.1 802.0,1305.5C804.7,1308.4 807.4,1312.7 810.1,1314.1C811.9,1315.0 813.8,1316.0 815.6,1316.0C816.5,1316.0 817.5,1316.0 818.4,1316.0C820.3,1316.0 822.1,1312.9 824.0,1311.3C826.7,1308.9 829.4,1305.2 832.1,1303.9C833.9,1303.0 835.8,1302.1 837.6,1302.1C838.5,1302.1 839.5,1302.1 840.4,1302.1C842.6,1302.1 844.9,1304.6 847.1,1305.5C850.6,1306.9 854.1,1307.9 857.6,1309.0C860.2,1309.8 862.8,1311.3 865.4,1311.3C866.3,1311.3 867.3,1311.3 868.2,1311.3C869.7,1311.3 871.1,1310.1 872.6,1309.0C874.9,1307.3 877.3,1302.7 879.6,1299.8C881.9,1296.9 884.2,1293.4 886.5,1291.7C888.0,1290.6 889.4,1289.3 890.9,1289.3C891.8,1289.3 892.8,1289.3 893.7,1289.3C895.5,1289.3 897.4,1291.1 899.2,1292.8C901.5,1295.0 903.9,1301.4 906.2,1306.7C908.5,1311.9 910.8,1320.2 913.1,1325.2C915.4,1330.3 917.8,1335.4 920.1,1338.0C921.9,1340.1 923.8,1342.6 925.6,1342.6C926.5,1342.6 927.5,1342.6 928.4,1342.6C930.3,1342.6 932.1,1341.3 934.0,1340.3C936.7,1338.9 939.4,1335.0 942.1,1334.0C943.9,1333.3 945.8,1332.6 947.6,1332.6C948.5,1332.6 949.5,1332.6 950.4,1332.6C952.6,1332.6 954.9,1334.2 957.1,1335.6C959.8,1337.3 962.5,1341.6 965.2,1343.8C968.0,1346.1 970.9,1349.5 973.7,1349.5C974.6,1349.5 975.6,1349.5 976.5,1349.5C979.7,1349.5 982.9,1347.6 986.1,1346.1C988.9,1344.8 991.7,1340.0 994.5,1340.0C995.4,1340.0 996.4,1340.0 997.3,1340.0C1000.1,1340.0 1002.9,1342.3 1005.7,1343.8C1008.4,1345.3 1011.2,1347.6 1013.9,1349.5C1016.6,1351.4 1019.3,1353.9 1022.0,1355.3C1023.4,1356.1 1024.9,1357.2 1026.3,1357.2C1027.2,1357.2 1028.2,1357.2 1029.1,1357.2C1030.6,1357.2 1032.0,1354.4 1033.5,1351.9C1035.4,1348.6 1037.4,1339.7 1039.3,1334.5C1041.2,1329.3 1043.2,1323.9 1045.1,1320.6C1047.4,1316.6 1049.8,1313.5 1052.1,1311.3C1054.7,1308.9 1057.3,1305.7 1059.9,1305.7C1060.8,1305.7 1061.8,1305.7 1062.7,1305.7C1064.9,1305.7 1067.2,1308.8 1069.4,1311.3C1071.7,1313.9 1074.1,1320.0 1076.4,1322.9C1078.8,1325.9 1081.3,1330.1 1083.7,1330.1C1084.6,1330.1 1085.6,1330.1 1086.5,1330.1C1089.7,1330.1 1092.8,1328.1 1096.0,1326.4C1098.7,1324.9 1101.4,1321.7 1104.1,1319.4C1106.8,1317.1 1109.6,1314.0 1112.3,1312.5C1115.1,1310.9 1117.9,1309.0 1120.7,1309.0C1121.6,1309.0 1122.6,1309.0 1123.5,1309.0C1126.3,1309.0 1129.1,1312.9 1131.9,1316.0C1134.6,1318.9 1137.3,1324.6 1140.0,1328.7C1142.3,1332.3 1144.7,1337.3 1147.0,1339.1C1150.2,1341.6 1153.4,1344.1 1156.6,1344.1C1157.5,1344.1 1158.5,1344.1 1159.4,1344.1C1162.9,1344.1 1166.4,1342.6 1169.9,1342.6C1170.8,1342.6 1171.8,1342.6 1172.7,1342.6C1174.9,1342.6 1177.2,1343.5 1179.4,1344.2C1182.1,1345.1 1184.8,1346.9 1187.5,1348.4C1190.7,1350.2 1193.9,1354.4 1197.1,1354.4C1198.0,1354.4 1199.0,1354.4 1199.9,1354.4C1202.7,1354.4 1205.5,1352.2 1208.3,1350.7C1210.6,1349.5 1213.0,1347.1 1215.3,1346.1C1217.1,1345.3 1219.0,1344.2 1220.8,1344.2C1221.7,1344.2 1222.7,1344.2 1223.6,1344.2C1225.8,1344.2 1228.1,1345.4 1230.3,1346.1C1233.8,1347.2 1237.3,1348.6 1240.8,1350.2C1243.9,1351.6 1246.9,1353.6 1250.0,1354.9C1251.5,1355.5 1252.9,1356.5 1254.4,1356.5C1255.3,1356.5 1256.3,1356.5 1257.2,1356.5C1259.1,1356.5 1260.9,1353.4 1262.8,1351.9C1265.1,1350.1 1267.4,1347.8 1269.7,1346.8C1272.1,1345.8 1274.5,1344.7 1276.9,1344.7C1277.8,1344.7 1278.8,1344.7 1279.7,1344.7C1282.9,1344.7 1286.1,1346.9 1289.3,1348.4C1292.8,1350.0 1296.2,1352.3 1299.7,1354.2C1302.7,1355.9 1305.7,1359.2 1308.7,1359.2C1309.6,1359.2 1310.6,1359.2 1311.5,1359.2C1315.3,1359.2 1319.0,1355.5 1322.8,1354.2C1325.4,1353.3 1328.1,1351.9 1330.7,1351.9C1331.6,1351.9 1332.6,1351.9 1333.5,1351.9C1336.5,1351.9 1339.5,1353.5 1342.5,1354.2C1346.4,1355.1 1350.2,1355.7 1354.1,1356.5C1357.5,1357.2 1360.9,1358.8 1364.3,1358.8C1365.2,1358.8 1366.2,1358.8 1367.1,1358.8C1368.9,1358.8 1370.8,1356.7 1372.6,1355.3C1374.9,1353.5 1377.3,1349.3 1379.6,1347.9C1381.4,1346.8 1383.3,1345.6 1385.1,1345.6C1386.0,1345.6 1387.0,1345.6 1387.9,1345.6C1389.8,1345.6 1391.6,1347.3 1393.5,1348.4C1395.8,1349.8 1398.1,1352.4 1400.4,1353.5C1402.6,1354.5 1404.9,1355.8 1407.1,1355.8C1408.0,1355.8 1409.0,1355.8 1409.9,1355.8C1412.9,1355.8 1415.9,1355.6 1418.9,1355.3C1421.2,1355.1 1423.6,1353.4 1425.9,1351.9C1428.2,1350.4 1430.5,1346.3 1432.8,1344.9C1435.0,1343.5 1437.3,1341.9 1439.5,1341.9C1440.4,1341.9 1441.4,1341.9 1442.3,1341.9C1444.2,1341.9 1446.0,1343.7 1447.9,1344.9C1450.2,1346.4 1452.5,1349.4 1454.8,1350.7C1456.7,1351.7 1458.5,1353.0 1460.4,1353.0C1461.3,1353.0 1462.3,1353.0 1463.2,1353.0C1465.0,1353.0 1466.9,1351.5 1468.7,1350.7C1471.8,1349.3 1474.9,1347.7 1478.0,1346.1C1481.2,1344.4 1484.4,1340.8 1487.6,1340.8C1488.5,1340.8 1489.5,1340.8 1490.4,1340.8C1492.8,1340.8 1495.2,1343.0 1497.6,1344.9C1499.9,1346.8 1502.3,1351.5 1504.6,1354.2C1506.9,1356.8 1509.2,1359.8 1511.5,1361.1C1513.4,1362.2 1515.2,1363.4 1517.1,1363.4C1518.0,1363.4 1519.0,1363.4 1519.9,1363.4C1522.1,1363.4 1524.4,1361.5 1526.6,1360.4C1530.1,1358.6 1533.5,1355.5 1537.0,1354.2C1539.6,1353.2 1542.3,1351.9 1544.9,1351.9C1545.8,1351.9 1546.8,1351.9 1547.7,1351.9C1549.5,1351.9 1551.4,1353.9 1553.2,1355.3C1555.9,1357.3 1558.6,1361.0 1561.3,1363.4C1563.6,1365.5 1566.0,1368.2 1568.3,1369.2C1570.1,1370.0 1572.0,1370.8 1573.8,1370.8C1574.7,1370.8 1575.7,1370.8 1576.6,1370.8C1578.1,1370.8 1579.5,1369.3 1581.0,1368.1C1583.3,1366.2 1585.6,1361.8 1587.9,1358.8C1590.2,1355.8 1592.6,1351.9 1594.9,1350.2C1596.4,1349.2 1597.8,1347.9 1599.3,1347.9C1600.2,1347.9 1601.2,1347.9 1602.1,1347.9C1603.9,1347.9 1605.8,1350.1 1607.6,1351.9C1609.9,1354.2 1612.3,1359.5 1614.6,1363.4C1616.9,1367.2 1619.2,1372.1 1621.5,1375.0C1623.9,1378.0 1626.4,1382.2 1628.8,1382.2C1629.7,1382.2 1630.7,1382.2 1631.6,1382.2C1634.0,1382.2 1636.5,1379.1 1638.9,1376.2C1641.2,1373.4 1643.5,1365.2 1645.8,1361.1C1648.1,1357.0 1650.5,1352.7 1652.8,1350.7C1654.6,1349.1 1656.5,1347.2 1658.3,1347.2C1659.2,1347.2 1660.2,1347.2 1661.1,1347.2C1663.0,1347.2 1664.8,1350.0 1666.7,1351.9C1669.0,1354.3 1671.3,1358.5 1673.6,1361.1C1675.9,1363.8 1678.3,1366.8 1680.6,1368.1C1682.8,1369.4 1685.1,1370.8 1687.3,1370.8C1688.2,1370.8 1689.2,1370.8 1690.1,1370.8C1691.5,1370.8 1693.0,1367.7 1694.4,1365.7C1696.7,1362.4 1699.1,1355.4 1701.4,1353.0C1704.0,1350.3 1706.7,1347.4 1709.3,1347.4C1710.2,1347.4 1711.2,1347.4 1712.1,1347.4C1714.7,1347.4 1717.3,1350.5 1719.9,1353.0C1722.2,1355.3 1724.6,1360.0 1726.9,1363.4C1729.2,1366.8 1731.5,1371.3 1733.8,1373.4C1735.7,1375.1 1737.5,1377.3 1739.4,1377.3C1740.3,1377.3 1741.3,1377.3 1742.2,1377.3C1743.6,1377.3 1745.1,1375.6 1746.5,1373.9C1748.4,1371.7 1750.4,1365.0 1752.3,1360.0C1754.2,1355.0 1756.2,1347.9 1758.1,1343.8C1760.0,1339.7 1762.0,1335.6 1763.9,1334.0C1765.8,1332.5 1767.6,1331.0 1769.5,1331.0C1770.4,1331.0 1771.4,1331.0 1772.3,1331.0C1774.1,1331.0 1776.0,1332.9 1777.8,1334.0C1781.6,1336.2 1785.4,1339.1 1789.2,1341.4C1791.8,1343.0 1794.4,1346.0 1797.0,1346.0C1797.9,1346.0 1798.9,1346.0 1799.8,1346.0C1801.3,1346.0 1802.7,1344.2 1804.2,1342.5C1806.1,1340.3 1808.0,1334.5 1809.9,1329.9C1812.2,1324.4 1814.5,1315.9 1816.8,1311.5C1819.1,1307.1 1821.4,1302.8 1823.7,1301.1C1825.2,1300.0 1826.6,1298.8 1828.1,1298.8C1829.0,1298.8 1830.0,1298.8 1830.9,1298.8C1832.7,1298.8 1834.6,1301.4 1836.4,1303.4C1838.7,1305.9 1841.0,1311.5 1843.3,1314.9C1845.6,1318.3 1847.9,1322.7 1850.2,1324.1C1852.0,1325.2 1853.9,1326.4 1855.7,1326.4C1856.6,1326.4 1857.6,1326.4 1858.5,1326.4C1859.9,1326.4 1861.4,1323.3 1862.8,1320.7C1864.7,1317.2 1866.7,1307.8 1868.6,1302.2C1870.5,1296.7 1872.4,1290.1 1874.3,1287.3C1876.1,1284.6 1878.0,1281.5 1879.8,1281.5C1880.7,1281.5 1881.7,1281.5 1882.6,1281.5C1884.4,1281.5 1886.3,1284.8 1888.1,1287.3C1890.8,1290.9 1893.5,1298.4 1896.2,1303.4C1898.9,1308.3 1901.5,1314.0 1904.2,1317.2C1906.0,1319.4 1907.9,1322.5 1909.7,1322.5C1910.6,1322.5 1911.6,1322.5 1912.5,1322.5C1914.0,1322.5 1915.4,1319.8 1916.9,1317.2C1918.8,1313.9 1920.7,1303.7 1922.6,1297.6C1924.5,1291.4 1926.5,1284.0 1928.4,1280.4C1930.4,1276.7 1932.4,1272.4 1934.4,1272.4C1935.3,1272.4 1936.3,1272.4 1937.2,1272.4C1939.2,1272.4 1941.3,1275.6 1943.3,1278.1C1946.0,1281.5 1948.7,1289.3 1951.4,1294.2C1953.7,1298.4 1956.0,1303.2 1958.3,1305.7C1960.1,1307.7 1962.0,1310.3 1963.8,1310.3C1964.7,1310.3 1965.7,1310.3 1966.6,1310.3C1968.4,1310.3 1970.3,1307.4 1972.1,1304.6C1974.0,1301.7 1975.9,1293.5 1977.8,1288.4C1979.7,1283.2 1981.7,1276.5 1983.6,1273.5C1985.6,1270.3 1987.6,1266.7 1989.6,1266.7C1990.5,1266.7 1991.5,1266.7 1992.4,1266.7C1994.4,1266.7 1996.5,1269.9 1998.5,1272.3C2001.2,1275.5 2003.9,1281.9 2006.6,1286.1C2009.3,1290.3 2011.9,1294.5 2014.6,1297.6C2016.8,1300.2 2019.1,1304.1 2021.3,1304.1C2022.2,1304.1 2023.2,1304.1 2024.1,1304.1C2025.9,1304.1 2027.8,1301.4 2029.6,1298.8C2031.5,1296.1 2033.4,1288.5 2035.3,1283.8C2037.2,1279.0 2039.2,1272.4 2041.1,1270.0C2042.9,1267.7 2044.8,1265.4 2046.6,1265.4C2047.5,1265.4 2048.5,1265.4 2049.4,1265.4C2051.2,1265.4 2053.1,1268.1 2054.9,1270.0C2057.6,1272.8 2060.3,1277.8 2063.0,1281.5C2065.7,1285.1 2068.3,1289.2 2071.0,1291.9C2072.8,1293.7 2074.7,1296.5 2076.5,1296.5C2077.4,1296.5 2078.4,1296.5 2079.3,1296.5C2081.1,1296.5 2083.0,1294.2 2084.8,1291.9C2087.1,1289.1 2089.4,1280.9 2091.7,1274.6C2094.0,1268.3 2096.3,1258.6 2098.6,1253.9C2100.8,1249.3 2103.1,1243.4 2105.3,1243.4C2106.2,1243.4 2107.2,1243.4 2108.1,1243.4C2110.7,1243.4 2113.3,1246.2 2115.9,1248.2C2118.6,1250.2 2121.2,1254.7 2123.9,1256.2C2125.7,1257.3 2127.6,1258.5 2129.4,1258.5C2130.3,1258.5 2131.3,1258.5 2132.2,1258.5C2134.0,1258.5 2135.9,1255.5 2137.7,1252.8C2140.0,1249.4 2142.3,1240.3 2144.6,1233.2C2146.9,1226.1 2149.2,1216.2 2151.5,1210.2C2153.8,1204.2 2156.1,1197.8 2158.4,1195.3C2160.8,1192.6 2163.3,1189.9 2165.7,1189.9C2166.6,1189.9 2167.6,1189.9 2168.5,1189.9C2170.5,1189.9 2172.5,1194.2 2174.5,1196.4C2177.1,1199.2 2179.7,1205.0 2182.3,1205.0C2183.2,1205.0 2184.2,1205.0 2185.1,1205.0C2187.3,1205.0 2189.6,1201.7 2191.8,1198.7C2194.1,1195.6 2196.4,1188.6 2198.7,1182.6C2201.0,1176.6 2203.3,1170.3 2205.6,1161.9C2207.1,1156.3 2208.7,1149.6 2210.2,1141.2C2211.3,1135.0 2212.5,1125.0 2213.6,1118.2C2214.4,1113.6 2215.1,1107.4 2215.9,1105.6C2216.5,1104.1 2217.2,1102.6 2217.8,1102.6C2218.5,1102.6 2219.1,1105.8 2219.8,1109.0C2220.4,1112.1 2221.1,1118.7 2221.7,1127.4C2222.1,1132.4 2222.4,1142.7 2222.8,1150.4" fill="none" stroke="#111" stroke-width="4.4" stroke-linejoin="round" stroke-linecap="round"/>
<rect x="293.0" y="1049.3" width="1939.5" height="354.20000000000005" fill="none" stroke="#000" stroke-width="6.6"/>
<line x1="293.0" y1="1403.5" x2="293.0" y2="1429.5" stroke="#000" stroke-width="6.6"/>
<text transform="translate(293.0,1501.7) scale(1,1.035)" class="tk" text-anchor="middle">0</text>
<line x1="508.5" y1="1403.5" x2="508.5" y2="1429.5" stroke="#000" stroke-width="6.6"/>
<text transform="translate(508.5,1501.7) scale(1,1.035)" class="tk" text-anchor="middle">50</text>
<line x1="724.0" y1="1403.5" x2="724.0" y2="1429.5" stroke="#000" stroke-width="6.6"/>
<text transform="translate(724.0,1501.7) scale(1,1.035)" class="tk" text-anchor="middle">100</text>
<line x1="939.5" y1="1403.5" x2="939.5" y2="1429.5" stroke="#000" stroke-width="6.6"/>
<text transform="translate(939.5,1501.7) scale(1,1.035)" class="tk" text-anchor="middle">150</text>
<line x1="1155.0" y1="1403.5" x2="1155.0" y2="1429.5" stroke="#000" stroke-width="6.6"/>
<text transform="translate(1155.0,1501.7) scale(1,1.035)" class="tk" text-anchor="middle">200</text>
<line x1="1370.5" y1="1403.5" x2="1370.5" y2="1429.5" stroke="#000" stroke-width="6.6"/>
<text transform="translate(1370.5,1501.7) scale(1,1.035)" class="tk" text-anchor="middle">250</text>
<line x1="1586.0" y1="1403.5" x2="1586.0" y2="1429.5" stroke="#000" stroke-width="6.6"/>
<text transform="translate(1586.0,1501.7) scale(1,1.035)" class="tk" text-anchor="middle">300</text>
<line x1="1801.5" y1="1403.5" x2="1801.5" y2="1429.5" stroke="#000" stroke-width="6.6"/>
<text transform="translate(1801.5,1501.7) scale(1,1.035)" class="tk" text-anchor="middle">350</text>
<line x1="2017.0" y1="1403.5" x2="2017.0" y2="1429.5" stroke="#000" stroke-width="6.6"/>
<text transform="translate(2017.0,1501.7) scale(1,1.035)" class="tk" text-anchor="middle">400</text>
<line x1="2232.5" y1="1403.5" x2="2232.5" y2="1429.5" stroke="#000" stroke-width="6.6"/>
<text transform="translate(2232.5,1501.7) scale(1,1.035)" class="tk" text-anchor="middle">450</text>
<line x1="265.5" y1="1403.5" x2="293.0" y2="1403.5" stroke="#000" stroke-width="6.6"/>
<text transform="translate(248.7,1425.3) scale(1,1.035)" class="tk" text-anchor="end">0.0</text>
<line x1="265.5" y1="1285.4" x2="293.0" y2="1285.4" stroke="#000" stroke-width="6.6"/>
<text transform="translate(248.7,1307.2) scale(1,1.035)" class="tk" text-anchor="end">0.1</text>
<line x1="265.5" y1="1167.4" x2="293.0" y2="1167.4" stroke="#000" stroke-width="6.6"/>
<text transform="translate(248.7,1189.2) scale(1,1.035)" class="tk" text-anchor="end">0.2</text>
<line x1="265.5" y1="1049.3" x2="293.0" y2="1049.3" stroke="#000" stroke-width="6.6"/>
<text transform="translate(248.7,1071.1) scale(1,1.035)" class="tk" text-anchor="end">0.3</text>
<text transform="translate(456.5,1127.7) scale(1,1.03)" class="lab" text-anchor="start">(c)</text>
<text transform="translate(1119.5,1130.3) scale(1,1.045)" class="dt" text-anchor="start">ΔT=0.6°C</text>
<text transform="translate(1261.2,1635.0) scale(1,1.0)" class="xl" text-anchor="middle">Displacement(mm)</text>
<text transform="translate(89,1346.5) rotate(-90)" class="yl" style="font-size:88.25px">Thermal deformation</text>
<text transform="translate(89,516) rotate(-90)" class="yl" style="letter-spacing:1.6px">error</text>
<text transform="translate(89,291.5) rotate(-90)" class="yl" style="letter-spacing:1.3px">(μm)</text>
</svg>
</body></html>
